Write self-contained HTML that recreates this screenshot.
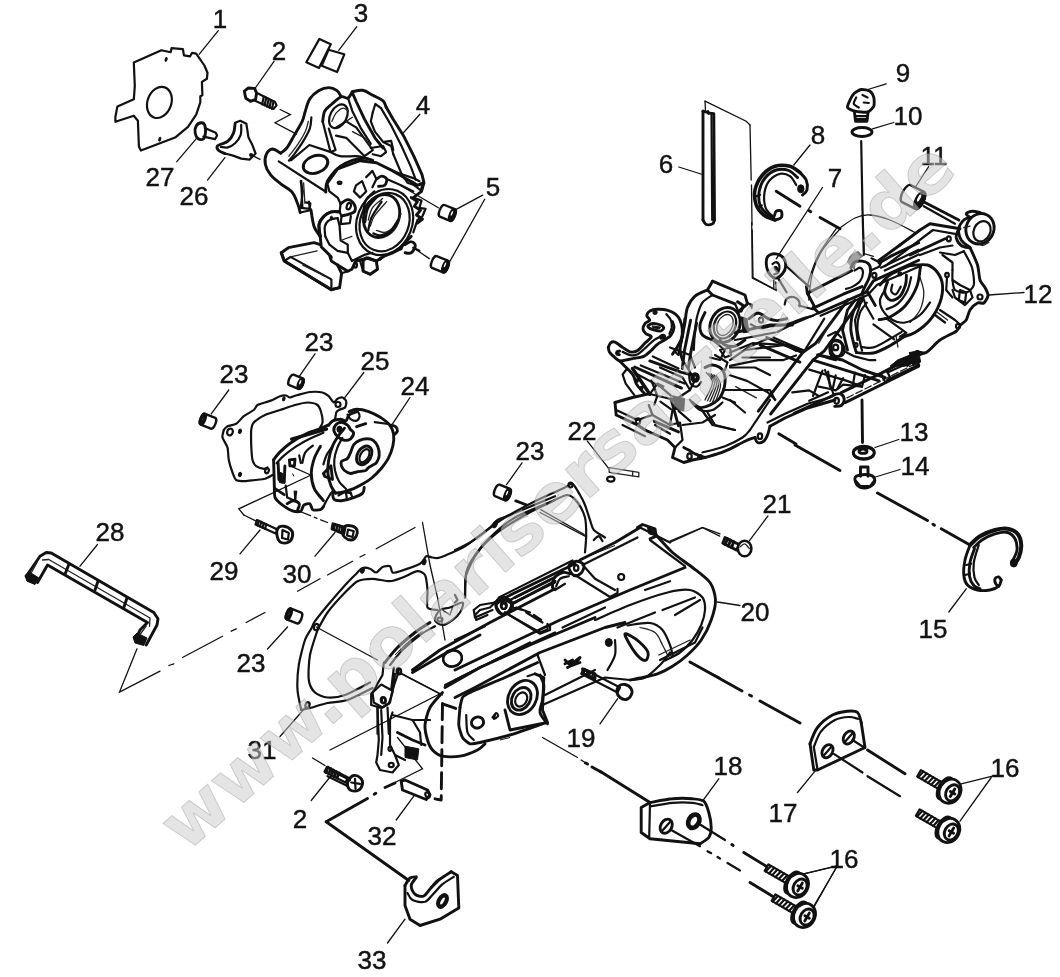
<!DOCTYPE html>
<html><head><meta charset="utf-8"><title>Crankcase</title>
<style>
html,body{margin:0;padding:0;background:#fff;}
svg{display:block;filter:grayscale(1);}
.l{font-family:"Liberation Sans",Arial,sans-serif;font-size:26px;fill:#111;stroke:#111;stroke-width:.45;text-anchor:middle;}
.wm{font-family:"DejaVu Sans","Liberation Sans",sans-serif;font-weight:bold;font-size:69px;fill:rgba(204,204,204,0.52);stroke:rgba(120,120,120,0.3);stroke-width:1;}
.p{fill:none;stroke:#111;stroke-width:2.2;stroke-linejoin:round;stroke-linecap:round;}
.pw{fill:#fff;stroke:#111;stroke-width:2.2;stroke-linejoin:round;stroke-linecap:round;}
.h{fill:none;stroke:#111;stroke-width:2.9;stroke-linejoin:round;stroke-linecap:round;}
.n{fill:none;stroke:#222;stroke-width:1.3;stroke-linejoin:round;stroke-linecap:round;}
.t{fill:none;stroke:#111;stroke-width:1.3;stroke-linecap:round;}
.d{fill:none;stroke:#111;stroke-width:1.5;stroke-dasharray:22 5 4 5;}
.k{fill:#111;stroke:#111;stroke-width:1;stroke-linejoin:round;}
</style></head><body>
<svg width="1060" height="977" viewBox="0 0 1060 977">
<rect width="1060" height="977" fill="#fff"/>
<g id="parts">
<!-- plate 1 -->
<path class="p"  d="M133.8 62.4 L161.4 50.2 L170.6 52.2 L171.6 48.1 L182.9 49.1 L183.9 55.3 L190.1 56.3 L192.1 52.8 L196.2 53.6 L204.4 65.5 L207.5 72.7 L206.9 78.8 L201.9 81.9 L202.4 95.2 L200.3 96.2 L200.3 102.4 L196.2 114.6 L188 126.9 L175.7 137.2 L140.9 150.5 L138.9 146.4 L137.9 120.8 L133.8 115.7 L115.4 121.8 L115.4 116.7 L117.4 106.4 L133.8 99.3 L134.8 86 Z"/>
<ellipse class="p"  cx="159.4" cy="102.4" rx="11.9" ry="16" transform="rotate(20 159.4 102.4)"/>
<ellipse class="k"  cx="166.1" cy="59.4" rx="1" ry="2" transform="rotate(15 166.1 59.4)"/>
<ellipse class="k"  cx="159.8" cy="139.2" rx="1" ry="2" transform="rotate(15 159.8 139.2)"/>
<path class="t"  d="M218.3 30.7 L199.3 54.2"/>
<!-- bolt 2 -->
<path class="h"  d="M244.3 91.1 L248.4 88 L254.6 88.4 L256.6 93.1 L255.6 99.3 L250.5 101.3 L245.8 98.3 Z"/>
<path class="p"  d="M256 92.5 L275 101.9 L276.5 105.4 L273.6 108.9 L253.9 100.3"/>
<path class="p"  d="M263.8 96.6 L262.1 104.4"/>
<path class="p"  d="M266.2 97.7 L264.6 105.5"/>
<path class="p"  d="M268.7 98.9 L267 106.7"/>
<path class="p"  d="M271.1 100 L269.5 107.8"/>
<path class="p"  d="M273.6 101.1 L272 108.9"/>
<path class="t"  d="M274 61.4 L254.6 89"/>
<path class="t"  d="M280.1 109.5 L290.4 114.6 L275 122.8 L296.5 134.1"/>
<!-- screw 27 -->
<path class="h"  d="M196.2 125.9 C197.2 124.2 199.9 122.9 201.3 122.8 C202.8 122.7 204.1 123.6 204.8 125.3 C205.5 127 205.7 130.8 205.4 133.1 C205.2 135.3 204.6 137.8 203.4 138.8 C202.2 139.7 199.6 139.7 198.3 138.8 C196.9 137.8 195.5 135.2 195.2 133.1 C194.8 130.9 195.2 127.6 196.2 125.9 Z"/>
<path class="p"  d="M204.8 127.9 L215.7 132.7 L217.1 135.5 L215 139.2 L203.4 136.7"/>
<path class="t"  d="M197.2 137.6 L176.8 161.7"/>
<!-- fork 26 -->
<path class="h"  d="M235.1 123.8 C234.8 125.4 234.7 130.2 233.5 133.1 C232.3 136 230.1 139.4 227.9 141.2 C225.8 143.1 222.6 143.5 220.8 144.3 C219 145.2 217.4 145.3 217.1 146.4 C216.8 147.4 217.4 149.3 218.7 150.5 C220 151.7 223.8 153 224.9 153.5"/>
<path class="p"  d="M224.9 153.5 L233.1 155.6 L241.2 158.6 L249.4 159.7 L255.6 153.5 L252.5 145.3 L248.4 137.2 L247 127.9 L246.4 123.8 L240.2 120.8 L235.1 122.8"/>
<path class="p"  d="M241.2 124.9 C241.1 126.6 241.7 132 240.6 135.1 C239.6 138.2 237.2 141.2 235.1 143.3 C233 145.3 230.3 146.8 227.9 147.4 C225.6 148 222 147 220.8 147"/>
<ellipse class="p"  cx="251.1" cy="155" rx="1" ry="1"/>
<path class="t"  d="M254.6 156.6 L260.1 159.3"/>
<path class="t"  d="M224.9 157.6 L207.5 180.1"/>
<!-- case 4 -->
<path class="h"  d="M280.7 153.1 C281.7 152.3 284.6 150.9 286.8 148 C289.1 145.1 291.5 140.2 294 135.7 C296.6 131.3 300.3 125.5 302.2 121.4 C304.1 117.3 304 114.9 305.3 111.2 C306.5 107.4 307.6 102.3 309.8 98.9 C312 95.5 315.4 92.6 318.6 90.7 C321.8 88.8 325.7 87.6 328.8 87.6 C331.9 87.6 335 89.2 337 90.7 C339 92.2 340.4 95.5 341.1 96.4"/>
<path class="h"  d="M280.7 153.1 C279.3 152.5 274.9 148.9 272.5 149 C270.1 149.2 267.6 151.6 266.4 154.2 C265.2 156.7 264.7 161 265.4 164.4 C266 167.8 267.9 171.4 270.5 174.6 C273 177.9 277.1 180.9 280.7 183.8 C284.3 186.7 289.2 188.8 292 192 C294.8 195.3 296.1 199.9 297.5 203.3 C298.9 206.7 299.7 211 300.2 212.5"/>
<path class="p"  d="M300.2 212.5 L309.4 210.5 L310.4 203.3 L305.7 202.3"/>
<path class="p"  d="M278.7 161.3 L326.2 192"/>
<path class="p"  d="M301.2 180.8 L302.4 207.4"/>
<path class="n"  d="M303.6 182.8 L304.9 203.3"/>
<ellipse class="h"  cx="315.5" cy="164.4" rx="12.7" ry="8.6" transform="rotate(-20 315.5 164.4)"/>
<path class="p"  d="M311.4 117.3 C311.1 119.2 311.2 124.5 309.8 128.6 C308.3 132.7 305.4 137.6 302.8 141.9 C300.2 146.2 296.3 151.4 294 154.6 C291.7 157.7 289.7 159.7 288.9 160.7"/>
<path class="n"  d="M308.3 121.4 C307.8 123.1 307 127.9 305.3 131.6 C303.6 135.4 300.8 139.8 298.1 143.9 C295.4 148 290.4 154.2 288.9 156.2"/>
<path class="p"  d="M290.9 160.3 L309.4 145 L330.9 152.1"/>
<path class="h"  d="M322.7 121.4 C323 119.7 323.2 114.1 324.7 111.2 C326.3 108.3 329.2 106.4 331.9 104 C334.6 101.6 338.4 97.8 341.1 96.8 C343.8 95.9 346 98.9 347.9 98.1 C349.7 97.2 351.6 92.8 352.4 91.7"/>
<ellipse class="p"  cx="338.4" cy="116.3" rx="8.2" ry="12.7" transform="rotate(28 338.4 116.3)"/>
<path class="n"  d="M331.9 121.4 C332.6 120 334.1 115.4 336 113.2 C337.9 111 341.1 108.4 343.1 108.1 C345.2 107.8 347.4 110.7 348.3 111.2"/>
<path class="p"  d="M322.7 121.4 L330.2 151.1"/>
<path class="p"  d="M328.8 128.6 L335.6 150.1 L330.9 152.1"/>
<path class="h"  d="M352.4 91.7 C354.1 91.5 359.2 89.7 362.6 90.3 C366 90.9 369.4 93.4 372.8 95.2 C376.2 97 380.8 99 383.1 100.9 C385.3 102.9 385.6 106.1 386.1 107.1"/>
<path class="h"  d="M386.1 107.1 L393.3 119.4 L403.5 135.7 L413.8 156.2 L422 174.6 L424 182.8 L421.5 191"/>
<path class="p"  d="M381 108.1 L391.2 125.5 L401.5 146 L410.7 166.4 L415.8 179.8"/>
<path class="h"  d="M352.4 92.8 L356.4 102 L364.6 119.4 L374.9 137.8 L383.1 148"/>
<path class="p"  d="M348.3 98.9 L352.4 111.2 L360.5 127.6 L370.8 143.9"/>
<path class="p"  d="M372.8 112.2 L375.3 104 L381 108.1"/>
<path class="p"  d="M372.8 112.2 L370.8 121.4 L374.9 131.6 L383.1 141.9 L391.2 146 L393.3 154.2"/>
<path class="p"  d="M336 127.6 L346.2 121.4 L356.4 127.6 L372.8 150.1 L364.6 156.2 L346.2 137.8 L336 135.7"/>
<path class="n"  d="M352.4 131.6 L364.6 137.8 L372.8 150.1"/>
<path class="n"  d="M346.2 121.4 L352.4 117.3"/>
<path class="p"  d="M370.8 148 L383.1 146 L386.1 152.1 L381 156.2 L372.8 154.2"/>
<path class="p"  d="M384.1 141.9 L391.2 140.9 L393.3 150.1"/>
<path class="p"  d="M393.3 154.2 L401.5 173.6 L407.6 182.8 L413.8 184.9 L421.5 191 L423 182.8"/>
<path class="n"  d="M403.5 178.7 L411.7 180.8 L417.9 184.9"/>
<path class="p"  d="M330.9 152.1 C332.4 152.8 335.8 155.5 340.1 156.2 C344.3 156.9 352 155.9 356.4 156.2 C360.9 156.6 365 157.9 366.7 158.3"/>
<path class="h"  d="M325.7 192 C325.9 190.5 325.7 185.7 326.8 182.8 C327.8 179.9 329.7 177.4 331.9 174.6 C334.1 171.9 336.7 168.8 340.1 166.4 C343.5 164.1 348.3 161.7 352.4 160.3 C356.4 158.9 361.2 158.3 364.6 158.3 C368 158.3 371.5 160 372.8 160.3"/>
<ellipse class="p"  cx="384.6" cy="222.1" rx="27.6" ry="33.8" transform="rotate(22 384.6 222.1)"/>
<ellipse class="h"  cx="381.6" cy="216" rx="17.4" ry="22.1" transform="rotate(22 381.6 216)"/>
<path class="n"  d="M366.2 211.9 C366.9 210.2 368.3 204.4 370.3 201.6 C372.4 198.9 377.1 196.5 378.5 195.5"/>
<path class="n"  d="M368.3 220.1 C368.9 218 370 211.4 372.4 207.8 C374.7 204.2 380.9 200.1 382.6 198.6"/>
<path class="n"  d="M370.3 226.2 C371 224.5 371.7 220.1 374.4 216 C377.1 211.9 384.6 204 386.7 201.6"/>
<path class="n"  d="M376.4 230.3 C377.8 230.6 381.6 233 384.6 232.4 C387.7 231.7 392.1 229.3 394.9 226.2 C397.6 223.1 400 216 401 213.9"/>
<path class="h"  d="M327.3 183.2 L337.6 168.9 L360.1 160.7 L376.4 162.8 L392.8 170.9 L417.4 185.3 L422.5 183.2 L421.5 191.4 L413.3 197.6"/>
<path class="p"  d="M327.3 183.2 L329.4 191.4 L337.6 197.6 L340.6 203.7 L339.6 211.9 L341.6 216"/>
<ellipse class="p"  cx="339.6" cy="182.8" rx="1.8" ry="1.2"/>
<path class="p"  d="M356 185.3 L362.1 181.2 L366.2 191.4 L360.1 197.6 L353.9 191.4 Z"/>
<path class="p"  d="M366.2 177.1 L372.4 170.9 L376.4 179.1 L372.4 187.3"/>
<path class="h"  d="M376.4 179.1 C377.3 178.6 379.9 176.1 381.6 176.1 C383.3 176.1 386.2 177.6 386.7 179.1 C387.2 180.7 386 184.1 384.6 185.3 C383.3 186.5 379.5 186.1 378.5 186.3"/>
<path class="p"  d="M386.7 179.1 L401 185.3 L413.3 191.4"/>
<path class="p"  d="M392.8 170.9 L401 174 L413.3 178.1 L419.4 181.2"/>
<path class="h"  d="M340.6 203.7 C341.8 203 345.6 199.6 347.8 199.6 C350 199.6 352.7 201.8 353.9 203.7 C355.1 205.6 355.6 209.2 355 210.9 C354.3 212.6 352.1 213.1 349.8 213.9 C347.6 214.8 343 215.6 341.6 216"/>
<ellipse class="p"  cx="348.8" cy="206.2" rx="2" ry="3.3" transform="rotate(20 348.8 206.2)"/>
<path class="p"  d="M341.6 216 L340.6 224.2 L349.8 223.1 L350.9 216"/>
<path class="h"  d="M320.2 236.4 C320 234.4 318.4 227.6 319.1 224.2 C319.8 220.8 322.2 218 324.2 216 C326.3 213.9 328.9 212.6 331.4 211.9 C334 211.2 338.2 211.9 339.6 211.9"/>
<path class="p"  d="M325.3 236.4 C325.2 234.7 324.2 228.9 324.9 226.2 C325.5 223.5 327.3 221.4 329.4 220.1 C331.5 218.7 336.2 218.4 337.6 218"/>
<ellipse class="k"  cx="331.4" cy="218" rx="1.2" ry="1.8"/>
<path class="h"  d="M320.2 236.4 L321.2 246.7 L329.4 254.9 L331.4 261 L337.6 265.1"/>
<path class="p"  d="M325.3 236.4 L329.4 244.6 L337.6 250.8 L347.8 252.8"/>
<ellipse class="k"  cx="331" cy="257.3" rx="1.2" ry="2"/>
<path class="p"  d="M337.6 218 L339.6 226.2 L340.6 240.5 L347.8 244.6 L347.8 252.8"/>
<path class="n"  d="M340.6 240.5 L351.9 236.4"/>
<path class="p"  d="M300.7 181.2 L302.8 191.4 L300.7 207.8 L309.9 208.8 L308.9 201.6"/>
<path class="h"  d="M310.9 209.8 C311.5 212.6 312.5 221.8 314 226.2 C315.5 230.6 319.1 234.7 320.2 236.4"/>
<path class="h"  d="M281.3 252.8 L288.4 247.7 L314 242.6 L320.2 244.6"/>
<path class="h"  d="M281.3 252.8 L284.3 261 L331.4 289.7 L339.6 287.6 L341.6 273.3 L337.6 265.1"/>
<path class="p"  d="M284.3 261 L290.5 256.9 L331.4 279.4 L331.4 289.7"/>
<path class="n"  d="M290.5 256.9 L317.1 250.8"/>
<path class="n"  d="M302.8 265.1 L325.3 276.4"/>
<path class="h"  d="M337.6 265.1 L347.8 271.2 L351.9 269.2 L356 261 L368.3 257.9 L376.4 261 L384.6 255.9 L392.8 252.8 L401 248.7"/>
<path class="p"  d="M341.6 273.3 L347.8 271.2"/>
<path class="p"  d="M347.8 252.8 L351.9 261 L364.2 254.9 L372.4 252.8"/>
<path class="p"  d="M360.1 261 L366.2 257.9 L376.4 261 L377.5 269.2 L370.3 274.3 L363.1 271.2 Z"/>
<ellipse class="p"  cx="355.4" cy="265.1" rx="1.6" ry="2.5"/>
<ellipse class="k"  cx="380.5" cy="258.6" rx="1.2" ry="1.6"/>
<path class="p"  d="M413.3 197.6 L421.5 200.6 L419.4 207.8 L425.6 208.8 L422.5 216 L417.4 220.1 L413.3 232.4"/>
<path class="h"  d="M411.2 236.4 L403.1 244.6 L401 248.7"/>
<path class="h"  d="M405.1 244.6 C406.1 244.1 409.5 241.4 411.2 241.6 C413 241.7 415.3 243.8 415.3 245.7 C415.3 247.5 413 251.6 411.2 252.8 C409.5 254 406.1 252.8 405.1 252.8"/>
<path class="p"  d="M413.3 247.7 L419.4 250.8"/>
<!-- item 3 -->
<path class="p"  d="M319.4 38.9 L330.8 44.2 L319 67.9 L306.3 62.3 Z"/>
<path class="pw"  d="M328.5 49.8 L344.3 54.3 L337.1 72 L321.7 65.7 Z"/>
<path class="t"  d="M356.8 26.7 L338.7 50.3"/>
<path class="t"  d="M419.9 114.2 L402.5 133.7"/>
<!-- dowels 5 -->
<g transform="translate(447.3 212.9) rotate(22)"><path class="pw" style="stroke-width:2.4" d="M-5.5 -6.3 L5.5 -6.3 A2.6 6.3 0 0 1 5.5 6.3 L-5.5 6.3 A2.6 6.3 0 0 1 -5.5 -6.3 Z"/><ellipse class="p" cx="5.5" cy="0" rx="2.6" ry="6.3"/><ellipse class="k" cx="5.5" cy="0" rx="2.6" ry="6.3"/><ellipse fill="#fff" cx="4.4" cy="-1.3" rx="0.8" ry="2.6"/></g>
<g transform="translate(439.9 264.3) rotate(22)"><path class="pw" style="stroke-width:2.4" d="M-6 -6.3 L6 -6.3 A2.6 6.3 0 0 1 6 6.3 L-6 6.3 A2.6 6.3 0 0 1 -6 -6.3 Z"/><ellipse class="p" cx="6" cy="0" rx="2.6" ry="6.3"/><ellipse class="k" cx="6" cy="0" rx="2.6" ry="6.3"/><ellipse fill="#fff" cx="4.9" cy="-1.3" rx="0.8" ry="2.6"/></g>
<path class="t"  d="M401 185.7 L438.3 207.8"/>
<path class="t"  d="M413.3 247.7 L429.3 258.6"/>
<path class="t"  d="M482.7 195.1 L455.7 209.6"/>
<path class="t"  d="M484.7 199.3 L447.4 265.7"/>
<!-- gasket 25 -->
<path class="p"  d="M223.8 430 C224.2 429.5 225.8 427.1 227.5 426.2 C229.2 425.4 234.1 425.1 236.2 423.8 C238.4 422.4 241.4 418.1 243.8 416.2 C246.1 414.4 251.9 411.5 253.8 410 C255.6 408.5 256 406 257.5 405 C259 404 263 403.2 265 402.5 C267 401.8 270.5 400.8 272.5 400 C274.5 399.2 278.2 396.9 280 396.2 C281.8 395.6 284.9 395.3 286.2 395.5 C287.6 395.7 288.5 397.6 290 397.5 C291.5 397.4 294.8 395.7 297.5 395 C300.2 394.3 306.7 392.3 310 392 C313.3 391.7 320 391.9 322.5 392.5 C325 393.1 327.2 394.9 328.8 396.2 C330.2 397.6 332.6 402.2 333.8 402.5 C334.9 402.8 336.3 399.4 337.5 398.8 C338.7 398.1 341.3 397.2 342.5 397.5 C343.7 397.8 345.9 399.9 346.2 401.2 C346.6 402.6 346 406.3 345 407.5 C344 408.7 339.9 409.3 338.8 410 C337.6 410.7 336.8 411.3 336.2 412.5 C335.8 413.7 335.7 417.4 335 418.8 C334.3 420.1 331.8 422 331.2 422.5"/>
<path class="p"  d="M223.8 430 C223.6 431 222 435.2 222.5 437.5 C223 439.8 226.7 444.5 227.5 447.5 C228.3 450.5 228.1 456.7 228.8 460 C229.4 463.3 231.5 469.8 232.5 472.5 C233.5 475.2 234.6 478.8 236.2 480 C237.9 481.2 242.5 481.2 245 481.2 C247.5 481.2 252.3 480.3 255 480 C257.7 479.7 262.7 479.4 265 478.8 C267.3 478.1 271.5 475.5 272.5 475"/>
<path class="p"  d="M267.5 467.5 C267 467.7 265.2 468.9 263.8 468.8 C262.2 468.6 257.8 467.4 256.2 466.2 C254.8 465.1 253.2 462.8 252.5 460 C251.8 457.2 251.4 449 251.2 445 C251.1 441 250.9 433 251.2 430 C251.6 427 251.9 424.5 253.8 422.5 C255.6 420.5 261.5 416.7 265 415 C268.5 413.3 276 411.3 280 410 C284 408.7 291.3 406 295 405 C298.7 404 304.5 402.5 307.5 402.5 C310.5 402.5 315.7 403.7 317.5 405 C319.3 406.3 320.6 410.2 321.2 412.5 C321.9 414.8 322.7 420.5 322.5 422.5 C322.3 424.5 320.3 426.8 320 427.5"/>
<ellipse class="p"  cx="230" cy="432" rx="2.8" ry="3.5" transform="rotate(20 230 432)"/>
<ellipse class="k"  cx="240" cy="431.2" rx="1.5" ry="2.2" transform="rotate(20 240 431.2)"/>
<ellipse class="k"  cx="240" cy="474.5" rx="1.5" ry="2.2" transform="rotate(20 240 474.5)"/>
<ellipse class="p"  cx="267" cy="470.8" rx="1.8" ry="2.5" transform="rotate(20 267 470.8)"/>
<ellipse class="k"  cx="283.8" cy="398.8" rx="1.2" ry="2" transform="rotate(20 283.8 398.8)"/>
<ellipse class="p"  cx="338" cy="404.5" rx="2.5" ry="2.5"/>
<!-- pump 24 -->
<path class="h"  d="M349.1 411.6 C350.3 411.2 353.3 409.3 356.6 409.3 C359.9 409.3 364.7 410.2 368.7 411.6 C372.7 413 377.2 415.4 380.8 417.6 C384.3 419.9 387.7 422.4 389.8 425.2 C391.9 428 393.1 430.7 393.6 434.2 C394.1 437.8 393.7 442.3 392.8 446.3 C391.9 450.3 390.3 454.6 388.3 458.4 C386.3 462.2 383.5 465.7 380.8 469 C378 472.2 374.7 475.5 371.7 478 C368.7 480.5 365.7 482.3 362.6 484.1 C359.6 485.8 356.6 487.3 353.6 488.6 C350.6 489.8 347.5 490.8 344.5 491.6 C341.5 492.4 337 492.9 335.5 493.1"/>
<path class="h"  d="M335.5 493.1 C334.7 491.9 332.2 488.8 330.9 485.6 C329.7 482.3 328.3 477.8 327.9 473.5 C327.5 469.2 327.9 464.4 328.7 459.9 C329.4 455.4 330.8 450.3 332.5 446.3 C334.1 442.3 336.5 438.8 338.5 435.8 C340.5 432.7 343.5 429.5 344.5 428.2"/>
<path class="p"  d="M342.3 438 C341.4 439.7 338.6 444.2 337.3 447.8 C335.9 451.5 334.6 456.1 334.3 459.9 C333.9 463.7 334.3 466.9 335 470.5 C335.8 474 337 478 338.8 481 C340.6 484.1 344.8 487.6 346 488.9"/>
<path class="h"  d="M341.5 461.4 C342.2 460.5 346.5 459.5 347.5 458.4 C348.6 457.3 349.9 453.9 350.6 452.4 C351.3 450.8 352.5 446.2 353.6 444.8 C354.6 443.4 358 441 359.6 440.3 C361.2 439.6 365.6 438.8 367.2 438.8 C368.8 438.8 372 439.4 373.2 440.3 C374.4 441.2 377 444.6 377.7 446.3 C378.4 448.1 379.4 453.4 379.2 455.4 C379.1 457.3 377.5 461.5 376.2 462.9 C375 464.3 369.9 466.6 368.7 467.5 C367.4 468.3 367.1 469.9 365.7 470.5 C364.3 471 358.4 471.6 356.6 472 C354.8 472.3 352 473.7 350.6 473.5 C349.2 473.3 345.6 471.4 344.5 470.5 C343.5 469.6 341.9 467 341.5 465.9 C341.2 464.9 340.8 462.3 341.5 461.4 Z"/>
<ellipse class="h"  cx="364.2" cy="455.4" rx="6.8" ry="10" transform="rotate(30 364.2 455.4)"/>
<ellipse class="p"  cx="364.5" cy="455.7" rx="4.1" ry="7.2" transform="rotate(30 364.5 455.7)"/>
<path class="h"  d="M334 431.2 C333.5 429.2 334.2 426.7 335.5 425.2 C336.7 423.7 339.5 422.2 341.5 422.2 C343.5 422.2 346 423.9 347.5 425.2 C349.1 426.4 349.6 428.5 350.6 429.7 C351.6 431 353.6 431.2 353.6 432.7 C353.6 434.2 352.1 437.5 350.6 438.8 C349.1 440 346.5 440.5 344.5 440.3 C342.5 440 340.3 438.8 338.5 437.3 C336.7 435.8 334.5 433.2 334 431.2 Z"/>
<ellipse class="k"  cx="339.5" cy="429.3" rx="2.6" ry="3.2"/>
<path class="h"  d="M328.7 425.2 C329.3 424.5 330.6 422 332.5 421 C334.3 420 337.7 419.2 340 419.2 C342.3 419.1 344.5 421.4 346 420.7 C347.5 420 347.3 416.4 349.1 414.9 C350.8 413.4 355.3 412.2 356.6 411.6"/>
<path class="p"  d="M347.5 414.6 C348.1 415.4 349.1 418.1 350.6 419.2 C352.1 420.2 355.1 421.2 356.6 420.7 C358.1 420.2 359.4 417.6 359.6 416.1 C359.9 414.7 358.4 412.6 358.1 411.9"/>
<path class="h"  d="M391.3 425.2 C392.1 425.4 394.8 425.7 395.8 426.7 C396.9 427.7 397.6 429.9 397.4 431.2 C397.1 432.5 394.8 434 394.3 434.5"/>
<path class="h"  d="M356.6 426.7 L365.7 423.7"/>
<path class="p"  d="M374.7 422.2 L388.3 424"/>
<path class="h"  d="M332.5 491.6 C332.7 492.9 332.5 497.6 334 499.2 C335.5 500.7 338.2 500.9 341.5 500.7 C344.8 500.4 350.1 498.9 353.6 497.6 C357.1 496.4 360.9 494.8 362.6 493.1 C364.4 491.4 363.9 488.3 364.2 487.4"/>
<path class="p"  d="M338.5 495.4 C339.5 494.9 342.5 492.7 344.5 492.4 C346.5 492 349.6 493 350.6 493.1"/>
<path class="p"  d="M346 493.1 L346.8 498.4"/>
<path class="p"  d="M350.6 492.4 L352.1 496.9"/>
<path class="h"  d="M323.4 473.5 L330.9 465.9 L332.5 479.5 L324.9 476.5 Z"/>
<path class="h"  d="M273.6 459.9 C274.6 458.6 276.9 455.1 279.6 452.4 C282.4 449.6 285.9 446.3 290.2 443.3 C294.5 440.3 300.8 436.5 305.3 434.2 C309.8 432 313.6 431.2 317.4 429.7 C321.1 428.2 326.2 425.9 327.9 425.2"/>
<path class="p"  d="M276.6 463.2 C277.9 461.9 280.9 458.2 284.2 455.4 C287.4 452.6 291.9 449.1 296.2 446.3 C300.5 443.6 305.3 441 309.8 438.8 C314.3 436.5 321.1 433.7 323.4 432.7"/>
<path class="h" style="stroke-width:3.5" d="M291.7 439.1 L326.4 429.1"/>
<path class="h"  d="M273.6 459.9 C273.7 462.9 274.2 481.2 274.3 485.6 C274.5 490 274.1 495.4 275.1 497.6 C276.1 499.9 280.5 503.6 282.6 505.2 C284.8 506.8 291.1 510.5 293.2 511.2 C295.3 511.9 299.5 511.9 300.8 511.2 C302 510.5 302.7 506.1 303.8 505.2 C304.8 504.3 308.8 503.2 309.8 503.7 C310.9 504.2 311.6 509 312.8 509.7 C314.1 510.4 319.1 510.1 320.4 509.7 C321.6 509.4 323 507.1 323.4 506.7"/>
<path class="h"  d="M320.4 446.3 C319.4 448.3 315.8 453.9 314.3 458.4 C312.8 462.9 311.3 468.5 311.3 473.5 C311.3 478.5 312.3 484.1 314.3 488.6 C316.4 493.1 321.9 498.6 323.4 500.7"/>
<path class="p"  d="M312.8 445.6 C311.6 446.7 307 449.5 305.3 452.4 C303.5 455.3 302.8 461.2 302.3 462.9"/>
<path class="p"  d="M332.5 446.3 C331.4 447.8 327.9 452.4 326.4 455.4 C324.9 458.4 323.9 462.9 323.4 464.4"/>
<path class="p"  d="M323.4 506.7 C323.9 505.7 325.2 502.9 326.4 500.7 C327.7 498.4 330.2 494.4 330.9 493.1"/>
<path class="h"  d="M278.1 462.9 L278.9 479.5 L284.2 482.5 L284.9 465.9"/>
<path class="k"  d="M279.3 472 L282.9 473.5 L282.6 483.3 L279.3 482.5 Z"/>
<path class="h"  d="M289.4 459.9 L295 459.2 L294.4 465.9 L289.9 465.9 Z"/>
<path class="t"  d="M290.2 465.9 L310.6 475"/>
<path class="p"  d="M285.7 485.6 L287.2 497.6 L294.7 500.7 L296.2 491.6"/>
<path class="h"  d="M275.1 488.6 L284.2 494.6"/>
<path class="h"  d="M287.2 503.7 C288.2 503.2 291.2 500.7 293.2 500.7 C295.2 500.7 298.5 502.2 299.2 503.7 C300 505.2 298 508.7 297.7 509.7"/>
<path class="p"  d="M294.7 491.6 L295.5 500.7"/>
<path class="p"  d="M299.2 455.4 L300.8 462.9"/>
<path class="k"  d="M292.5 473.5 L294 476.5"/>
<path class="t"  d="M315 353.8 L297.5 378.8"/>
<path class="t"  d="M228.8 390 L211.2 413.8"/>
<path class="t"  d="M363.8 372.5 L343.8 398.8"/>
<path class="t"  d="M410 397.5 L392.5 423.8"/>
<path class="t"  d="M260 530 L240 553.8"/>
<path class="t"  d="M335 532.5 L315 556.2"/>
<path class="t"  d="M311.2 475 L238.8 508.8 L243.8 515"/>
<path class="t"  d="M243.8 515 L256.2 521.2"/>
<path class="t" stroke-dasharray="14 4 3 4" d="M297.5 510.5 L327.5 522.5"/>
<!-- dowels 23 a b -->
<g transform="translate(296 381.8) rotate(22)"><path class="pw" style="stroke-width:2.4" d="M-5 -5.6 L5 -5.6 A2.4 5.6 0 0 1 5 5.6 L-5 5.6 A2.4 5.6 0 0 1 -5 -5.6 Z"/><ellipse class="p" cx="5" cy="0" rx="2.4" ry="5.6"/><ellipse class="k" cx="5" cy="0" rx="2.4" ry="5.6"/><ellipse fill="#fff" cx="4.1" cy="-1.1" rx="0.8" ry="2.4"/></g>
<g transform="translate(208 421.2) rotate(202)"><path class="pw" style="stroke-width:2.4" d="M-5.5 -5.8 L5.5 -5.8 A2.4 5.8 0 0 1 5.5 5.8 L-5.5 5.8 A2.4 5.8 0 0 1 -5.5 -5.8 Z"/><ellipse class="p" cx="5.5" cy="0" rx="2.4" ry="5.8"/><ellipse class="p" cx="5.5" cy="0" rx="1.2" ry="3.5"/></g>
<!-- bolt 29 -->
<path class="p"  d="M257 520 L277.5 529.5 L276.2 533.8 L255.5 524.5 Z"/>
<path class="p"  d="M258.8 520.8 L257.5 525.5"/>
<path class="p"  d="M261.2 521.9 L260 526.6"/>
<path class="p"  d="M263.8 523 L262.5 527.8"/>
<path class="p"  d="M266.2 524.1 L265 528.9"/>
<path class="h"  d="M277.5 528.8 C278.5 526.9 281.5 526 283.8 526.2 C286 526.5 289.8 528.3 291.2 530 C292.7 531.7 292.9 534.2 292.5 536.2 C292.1 538.2 290.6 541 288.8 542 C286.9 543 283.1 543.2 281.2 542.5 C279.4 541.8 278.1 539.8 277.5 537.5 C276.9 535.2 276.5 530.6 277.5 528.8 Z"/>
<path class="p"  d="M282.5 530 L288.8 533 L288 539.5 L282 538 Z"/>
<!-- bolt 30 -->
<path class="h"  d="M333 523.8 L345 527.5 L343.8 533.8 L332 528.8 Z"/>
<path class="p"  d="M335 524 L334 529.5"/>
<path class="p"  d="M337.5 524.9 L336.5 530.4"/>
<path class="p"  d="M340 525.8 L339 531.2"/>
<path class="p"  d="M342.5 526.6 L341.5 532.1"/>
<path class="h"  d="M345 526.2 C346.7 525.2 350.5 525.6 352.5 526.2 C354.5 526.9 356.4 528.3 357 530 C357.6 531.7 357.2 534.6 356.2 536.2 C355.3 537.9 353.1 539.8 351.2 540 C349.4 540.2 346.5 538.8 345 537.5 C343.5 536.2 342.5 534.4 342.5 532.5 C342.5 530.6 343.3 527.3 345 526.2 Z"/>
<path class="p"  d="M348 529.5 L353.8 531.2 L352.5 537 L347 535.5 Z"/>
<!-- case 4 extras -->
<path class="p"  d="M363.1 211.9 C363.7 209.8 364.3 203 366.2 199.6 C368.1 196.2 373 192.8 374.4 191.4"/>
<path class="p"  d="M365.2 222.1 C365.7 219.7 366 212.2 368.3 207.8 C370.5 203.4 376.8 197.6 378.5 195.5"/>
<path class="p"  d="M368.3 230.3 C368.8 228.3 369.1 222.8 371.3 218 C373.5 213.2 379.9 204.4 381.6 201.6"/>
<path class="p"  d="M373.4 233.4 C374.6 233.7 377.6 235.9 380.5 235.4 C383.4 234.9 387.9 232.9 390.8 230.3 C393.7 227.7 396.7 221.8 397.9 220.1"/>
<ellipse class="p"  cx="384.6" cy="222.1" rx="24.2" ry="29.9" transform="rotate(22 384.6 222.1)"/>
<path class="h"  d="M411.2 197.6 L417.4 201.6 L414.3 206.2 L420.5 210.2 L416.4 215 L422.5 219 L417.4 223.1"/>
<path class="h"  d="M363.1 261 L366.2 257.9 L376.4 261 L377.5 269.2 L370.3 274.3 L363.1 271.2 Z"/>
<path class="h"  d="M320.2 236.4 C320 234.4 318.4 227.6 319.1 224.2 C319.8 220.8 322.2 218 324.2 216 C326.3 213.9 328.9 212.6 331.4 211.9 C334 211.2 338.2 211.9 339.6 211.9"/>
<path class="h"  d="M281.3 252.8 L284.3 261 L331.4 289.7 L339.6 287.6"/>
<!-- crankcase 12 right (frame G) -->
<ellipse class="h"  cx="980" cy="228.8" rx="13.8" ry="15.5" transform="rotate(25 980 228.8)"/>
<ellipse class="p"  cx="982" cy="231.2" rx="8.2" ry="10.5" transform="rotate(25 982 231.2)"/>
<path class="h"  d="M970 217.5 C969 217.9 965.6 218.1 963.8 220 C961.9 221.9 959.2 225.4 958.8 228.8 C958.3 232.1 959.4 236.9 961.2 240 C963.1 243.1 968.5 246.2 970 247.5"/>
<path class="n"  d="M977.5 242.5 C978.3 243 980.6 245.5 982.5 245.5 C984.4 245.5 987.7 243 988.8 242.5"/>
<path class="n"  d="M963.8 227.5 L970 226.2"/>
<path class="h"  d="M970 247.5 C971 249.8 976.2 260.7 977.5 265 C978.8 269.3 979 277 980 280 C981 283 983.9 285.4 985 287.5 C986.1 289.6 988.2 293.4 988 295.5 C987.8 297.6 985.1 302 983.8 303 C982.4 304 979.3 302.1 977.5 303 C975.7 303.9 971.5 307.7 970 310 C968.5 312.3 967.5 318 966.2 320 C965 322 961.8 323.5 960.5 325 C959.2 326.5 959 329.2 956.2 331.2 C953.5 333.2 944 337.2 940 340 C936 342.8 929.3 351 926.2 352.5 C923.2 354 918.2 351.6 917 351.5"/>
<path class="p"  d="M963.8 251.2 C964.9 253.4 970.7 263 972 267.5 C973.3 272 974.5 281.7 973.8 285 C973 288.3 968.8 291.8 966.2 292.5 C963.8 293.2 956.8 291.7 955 290 C953.2 288.3 952.8 282.7 952.5 280 C952.2 277.3 952.5 271.3 952.5 270"/>
<ellipse class="p"  cx="980" cy="297" rx="2.5" ry="2.5"/>
<ellipse class="p"  cx="958" cy="326.2" rx="2" ry="2.2"/>
<ellipse class="p"  cx="948.8" cy="238.8" rx="2" ry="2.5"/>
<path class="h"  d="M917 351.5 L912.5 355 L918.8 365 L887.5 380"/>
<path class="p"  d="M915 360 L887.5 372.5"/>
<path class="k"  d="M910 355 L897.5 360 L890 366.2 L905 366.2 L916.2 361.2"/>
<path class="h"  d="M960 228.8 L930 223.8 L920 230 L900 245"/>
<path class="p"  d="M955 233.8 L933 230 L905 251.2"/>
<path class="h"  d="M945 238.8 L910 255"/>
<path class="p"  d="M952.5 245.5 L940 247.5 L920 255"/>
<path class="p"  d="M940 252.5 L955 255 L963.8 251.2"/>
<path class="p"  d="M942.5 255 L952.5 262.5 L952.5 270"/>
<path class="h"  d="M910 265.5 C912.9 265.4 922.9 263.8 927.5 265 C932.1 266.2 935 269.2 937.5 272.5 C940 275.8 942.1 280 942.5 285 C942.9 290 942.1 296.7 940 302.5 C937.9 308.3 934.2 315 930 320 C925.8 325 919.6 329.7 915 332.5 C910.4 335.3 904.6 336.2 902.5 337"/>
<path class="n"  d="M920 277.5 C920.6 280 923.8 287.1 923.8 292.5 C923.8 297.9 922.3 305 920 310 C917.7 315 911.7 320.4 910 322.5"/>
<path class="p"  d="M952.5 280 L960 285 L970 290 L972.5 297.5 L965 305 L955 297.5 L952.5 290"/>
<path class="p"  d="M960 290 L966.2 292.5 L965 302.5 L958.8 300 Z"/>
<path class="p"  d="M940 310 L955 320 L960.5 325"/>
<path class="p"  d="M935 315 L945 322.5"/>
<path class="n"  d="M937.5 312.5 L947.5 320"/>
<ellipse class="p"  cx="947" cy="275" rx="1.8" ry="2.2"/>
<path class="p"  d="M947 277.5 L946.2 290 L952.5 297.5"/>
<!-- crankcase 12 center (frame J) -->
<path class="t"  d="M751.7 222.5 L752.3 278.1 L776.2 290.4 L775.7 281.9"/>
<path class="h"  d="M766.8 258.3 C767.4 256.1 768.8 255.2 770.6 254.5 C772.3 253.8 775 253.5 777.2 254.2 C779.4 254.8 782.4 256.4 783.8 258.3 C785.2 260.3 785.8 263.3 785.7 265.8 C785.5 268.4 784.4 271.4 782.8 273.4 C781.3 275.4 778.3 277.8 776.2 278.1 C774.2 278.4 772.1 277 770.6 275.3 C769 273.6 767.4 270.6 766.8 267.7 C766.2 264.9 766.2 260.5 766.8 258.3 Z"/>
<path class="p"  d="M772.5 264 C773.1 263.6 775.1 261.8 776.2 262.1 C777.4 262.4 779.1 264.1 779.4 265.8 C779.7 267.6 779 271 778.1 272.5 C777.3 273.9 775 274 774.3 274.3"/>
<ellipse class="k"  cx="776.6" cy="269.2" rx="1.7" ry="3.2" transform="rotate(-35 776.6 269.2)"/>
<path class="p"  d="M785.7 265.8 L809.2 286.6"/>
<path class="p"  d="M778.1 278.1 L786.6 292.3"/>
<path class="p"  d="M784.7 304.5 C785 303.6 785.2 300.1 786.6 298.9 C788 297.6 791.2 296.7 793.2 297 C795.3 297.3 797.8 299.2 798.9 300.8 C800 302.3 799.7 305.5 799.8 306.4"/>
<path class="t"  d="M836.6 228.1 C833.6 232.5 823.2 246 818.7 254.5 C814.1 263 811.3 272.8 809.2 279.1 C807.2 285.3 806.9 290.1 806.4 292.3"/>
<path class="h"  d="M806.4 286.6 L807.4 293.2 L851.7 270.6"/>
<path class="h"  d="M807.4 293.2 L814.9 307.4 L843.2 294.2 L862.1 286.6"/>
<path class="p"  d="M798.9 305.5 L813 309.2"/>
<path d="M848 262 q2 -8 10 -10 l4 4 q-8 4 -8 12z" fill="#777" stroke="#777" stroke-width="2"/>
<path class="h"  d="M850.8 267.7 C851.4 266.8 852.6 263.2 854.5 262.1 C856.4 261 859.7 260.8 862.1 261.1 C864.4 261.4 867.3 262.4 868.7 264 C870.1 265.5 870.6 268.1 870.6 270.6 C870.6 273.1 869.6 276.4 868.7 279.1 C867.7 281.7 866 284.2 864.9 286.6 C863.8 289 862.5 292.1 862.1 293.2"/>
<path class="p"  d="M854.5 270.6 C855.5 270.1 858.8 267.4 860.2 267.7 C861.6 268.1 863 270.3 863 272.5 C863 274.7 861.9 278.6 860.2 280.9 C858.5 283.3 855 285.3 852.6 286.6 C850.3 287.9 847.1 288.5 846 288.9"/>
<path class="t"  d="M863 218.7 L864 253.6 L873.4 256.4"/>
<path class="p"  d="M870.6 270.6 L879.1 266.8 L880.9 263 L875.3 260.2 L871.5 258.3"/>
<path class="h"  d="M879.1 263 L890.4 256.4 L918.7 242.8"/>
<path class="p"  d="M880.9 267.7 L918.7 249.8"/>
<path class="p"  d="M884.7 270.6 L918.7 254.5"/>
<ellipse class="p"  cx="874.3" cy="275.3" rx="2.1" ry="2.5"/>
<path class="h"  d="M813 307.4 L818.7 313 L865.8 292.3 L873.4 280.9 L918.7 260.2"/>
<path class="p"  d="M820.6 315.8 L867.7 295.1 L877.2 284.7 L918.7 266.8"/>
<ellipse class="p"  cx="899.8" cy="273.8" rx="1.3" ry="1.5"/>
<path class="h"  d="M920.6 265.8 C919.9 269.3 919.3 280 916.8 286.6 C914.3 293.2 909.9 300.4 905.5 305.5 C901.1 310.5 894.8 314.4 890.4 316.8 C886 319.2 880.9 319.2 879.1 319.6"/>
<path class="p"  d="M911.1 277.2 C910.5 279.4 909.6 286 907.4 290.4 C905.2 294.8 901.4 300.4 897.9 303.6 C894.5 306.7 888.5 308.3 886.6 309.2"/>
<path class="h"  d="M887.5 281.9 C887.1 283.6 884.2 289.2 884.7 292.3 C885.2 295.3 887.9 299.5 890.4 300.2 C892.9 300.9 897.3 299 899.8 296.4 C902.3 293.8 904.4 288.2 905.5 284.7 C906.6 281.2 906.3 276.9 906.4 275.3"/>
<path class="p"  d="M892.3 284.7 C892.1 285.8 890.7 289.7 891.3 291.3 C891.9 292.9 894.5 294.9 896 294.2 C897.6 293.4 900 287.9 900.8 286.6"/>
<path class="h"  d="M847.9 299.8 L815.8 343.2 L802.6 352.6 L758.3 411.1"/>
<path class="h"  d="M860.2 297.9 L854.5 309.2 L824.3 350.8 L813 360.2 L770.6 414"/>
<path class="h"  d="M766.8 337.5 L802.6 352.6"/>
<path class="h"  d="M760.2 345.1 L799.8 362.1"/>
<path class="h"  d="M813 360.2 L862.1 375.3 L879.1 380.9"/>
<path class="p"  d="M809.2 369.6 L847 380.9 L862.1 386.6"/>
<path class="p"  d="M818.7 313 L792.3 324.3 L777.2 331.9"/>
<path class="p"  d="M824.3 318.7 L809.2 343.2 L804.5 350.8 L786.6 343.2 L773.4 337.5"/>
<path class="n"  d="M831.9 320.6 L818.7 343.2"/>
<path class="h"  d="M862.1 300.8 C860.7 302.5 855.5 306.6 853.6 311.1 C851.7 315.7 850.8 322.8 850.8 328.1 C850.8 333.5 852.6 339.1 853.6 343.2 C854.5 347.3 855.9 351.1 856.4 352.6"/>
<path class="p"  d="M866.8 302.6 C865.6 304.4 861.4 308.8 859.8 313 C858.2 317.3 857.3 323.1 857.4 328.1 C857.4 333.1 859.4 339.4 860.2 343.2 C861 347 861.8 349.5 862.1 350.8"/>
<path class="h"  d="M856.4 352.6 C859.2 352.7 867.7 354.2 873.4 353 C879.1 351.8 885 348.4 890.4 345.5 C895.7 342.6 903 337.3 905.5 335.7"/>
<path class="p"  d="M862.1 347 C864 347 869 348.6 873.4 347.4 C877.8 346.2 883.8 342.4 888.5 339.8 C893.2 337.2 899.5 333.2 901.7 331.9"/>
<path class="p"  d="M879.1 319.6 L886.6 318.7 L906.4 332.8 L899.8 336.6"/>
<path class="p"  d="M873.4 324.3 L894.2 339.4"/>
<path class="n"  d="M896 335.7 L897.9 347"/>
<ellipse class="p"  cx="856" cy="345.1" rx="1.5" ry="1.9"/>
<path class="p"  d="M862.1 294.2 L865.8 305.5 L873.4 318.7"/>
<path class="h"  d="M867.7 292.3 L875.3 305.5"/>
<ellipse class="p"  cx="835.7" cy="347.4" rx="2.5" ry="2.8"/>
<path class="p"  d="M831.9 343.2 C832.7 341.2 835.7 341 837.5 341.3 C839.4 341.6 842.1 343.2 843.2 345.1 C844.3 347 844.8 350.8 844.2 352.6 C843.5 354.5 841.3 356.3 839.4 356.4 C837.5 356.6 834.1 355.8 832.8 353.6 C831.6 351.4 831.1 345.3 831.9 343.2 Z"/>
<path class="p"  d="M843.2 350.8 L854.5 356.4 L869.6 360.2 L875.3 360.2"/>
<path class="p"  d="M828.1 335.7 L835.7 331.9 L841.3 337.5"/>
<path class="p"  d="M818.7 354.5 L828.1 358.3 L835.7 360.2"/>
<ellipse class="p"  cx="836.6" cy="400.8" rx="2.3" ry="3"/>
<path class="h"  d="M831.9 396 C832.5 395.7 834.1 394.5 835.7 394.2 C837.2 393.8 839.9 393.2 841.3 394.2 C842.7 395.1 844.2 397.9 844.2 399.8 C844.2 401.7 842.9 404.4 841.3 405.5 C839.7 406.6 835.8 406.3 834.7 406.4"/>
<path class="h"  d="M841.3 392.6 L880.9 373.4 L918.7 353.6"/>
<path class="h"  d="M845.1 402.6 L918.7 366.2"/>
<path class="n" stroke-dasharray="7 3" d="M847 397.9 L918.7 362.1"/>
<path class="p"  d="M880.9 373.4 L884.7 380.9"/>
<path class="p"  d="M886.6 370.6 L890.4 378.1"/>
<path class="h"  d="M831.9 396 L794.2 413.4"/>
<path class="p"  d="M828.1 392.3 L809.2 400.8"/>
<path class="p"  d="M892.3 365.8 L899.8 362.1 L907.4 365.8 L914.9 360.2"/>
<path class="k"  d="M909.2 352.6 L918.7 350.8 L920.6 362.1 L913 365.8 Z"/>
<path class="p"  d="M822.5 370.6 L813 396"/>
<path class="p"  d="M828.1 371.5 L830 386.6"/>
<path class="p"  d="M835.7 375.3 L832.8 388.5"/>
<path class="p"  d="M843.2 378.1 L837.5 388.5"/>
<path class="p"  d="M818.7 386.6 L828.1 388.5 L835.7 390.4 L843.2 384.7 L862.1 386.6"/>
<path class="p"  d="M792.3 392.3 L809.2 390.4 L818.7 396"/>
<path class="h"  d="M748.9 318.7 C750.4 317.7 755.2 313.1 758.3 313 C761.4 313 764.6 317 767.7 318.3 C770.9 319.6 774 320.5 777.2 320.6 C780.3 320.6 785 319 786.6 318.7"/>
<ellipse class="p"  cx="761.1" cy="320.2" rx="2.1" ry="2.5"/>
<path class="p"  d="M750.8 324.3 C752.3 325 756.7 327.8 760.2 328.1 C763.6 328.4 767.1 326.9 771.5 326.2 C775.9 325.6 781.6 325.6 786.6 324.3 C791.6 323.1 797.3 320.1 801.7 318.7 C806.1 317.3 811.1 316.3 813 315.8"/>
<path class="p"  d="M767.7 338.5 L748.9 347 L730 360.2"/>
<path class="p"  d="M730 352.6 L752.6 343.2 L786.6 345.1 L796 350.8"/>
<path class="p"  d="M730 365.8 L758.3 360.2 L782.8 360.2 L796 355.5"/>
<path class="p"  d="M730 375.3 L747 380.9 L767.7 392.3 L775.3 399.8"/>
<path class="n"  d="M735.7 386.6 L756.4 397.9"/>
<path class="k"  d="M741.3 316.8 L747 318.7 L748.9 331.9 L743.2 332.8 Z"/>
<path class="h"  d="M737.5 301.7 L743.2 305.5 L741.3 311.1"/>
<path class="k"  d="M747.9 302.6 L752.6 304.5 L751.7 309.2"/>
<!-- crankcase 12 left (frame E) -->
<path class="h"  d="M608.3 347.4 C608.6 346.8 609.7 343.5 610.6 342.8 C611.5 342.1 613.5 341.5 615.1 342.1 C616.7 342.7 620.6 346.1 622.6 347.4 C624.7 348.7 628.2 351.5 630.2 351.9 C632.2 352.3 635.7 351.6 637.7 350.4 C639.7 349.2 643.5 344.6 645.3 342.8 C647.1 341 651.2 338 651.3 336.8 C651.4 335.6 647.1 334.8 646 333.8 C644.9 332.8 643.1 330.7 643 329.2 C642.9 327.8 644.4 324.4 645.3 323.2 C646.2 322 649.6 321.2 649.8 320.2 C650 319.2 646.8 316.9 646.8 315.7 C646.8 314.5 648.4 312 649.8 311.1 C651.2 310.3 654.9 309.4 657.4 309.3 C659.8 309.2 665.5 309.7 667.9 310.4 C670.3 311 673.9 312.8 675.5 314.2 C677.1 315.5 679.1 318.2 680 320.2 C680.9 322.2 682.1 326.8 682.3 329.2 C682.5 331.7 682.2 335.9 681.5 338.3 C680.8 340.7 678.2 345.2 677 347.4 C675.8 349.5 673.1 353.2 672.5 354.2"/>
<path class="h"  d="M608.3 347.4 C608.4 348 608.7 350.7 609.4 351.9 C610.1 353.1 612.2 355.2 613.6 356.4 C615 357.6 617.8 360.5 619.6 360.9 C621.4 361.4 625.2 360.1 627.2 359.7 C629.2 359.4 632.5 358.7 634.7 358.2 C636.9 357.8 641.6 357.5 643.8 356.4 C646 355.4 649.5 352 651.3 350.4 C653.1 348.8 655.5 345.7 657.4 344.3 C659.2 342.9 663.1 341 664.9 339.8 C666.7 338.6 669.7 336.9 670.9 335.3 C672.2 333.7 673.8 329.5 674 327.7 C674.2 325.9 672.7 322.5 672.5 321.7"/>
<path class="p"  d="M622.6 351.9 C623.9 352.4 627.7 354.8 630.2 355.2 C632.7 355.6 635 355.6 637.7 354.2 C640.5 352.7 644 349 646.8 346.6 C649.6 344.2 651.8 341.6 654.3 339.8 C656.9 338.1 660.6 336.7 661.9 336"/>
<path class="h"  d="M648.3 325.5 C649 324.8 650.8 323.6 652.8 323.5 C654.8 323.4 658.6 324.3 660.4 325 C662.2 325.7 663.7 326.7 663.7 327.7 C663.7 328.7 662.2 330.8 660.4 331.1 C658.6 331.4 654.8 330.1 652.8 329.5 C650.9 329 649.4 328.4 648.6 327.7 C647.8 327.1 647.6 326.2 648.3 325.5 Z"/>
<path class="k"  d="M652.1 325.9 L660.4 327 L659.6 328.9 L652.8 327.7 Z"/>
<ellipse class="p"  cx="655.1" cy="312.6" rx="1.5" ry="1.2"/>
<ellipse class="h"  cx="662.6" cy="336.8" rx="2.1" ry="1.4" transform="rotate(-20 662.6 336.8)"/>
<path class="h"  d="M619.6 351.1 C619.2 351.3 617.4 351.4 616.9 351.9 C616.5 352.4 616.5 353.7 616.9 354.2 C617.3 354.6 618.9 354.5 619.3 354.6"/>
<path class="p"  d="M666.4 314.2 C667.2 315.2 670.1 317.9 670.9 320.2 C671.8 322.5 671.9 325.5 671.7 327.7 C671.4 330 669.8 332.8 669.4 333.8"/>
<path class="h"  d="M619.6 360.9 C620.9 362.2 624.9 366.1 627.2 368.5 C629.4 370.9 631.7 372.8 633.2 375.3 C634.7 377.8 635 381.2 636.2 383.6 C637.5 386 639.2 387.9 640.8 389.6 C642.3 391.4 644.5 393.4 645.3 394.2"/>
<path class="h" style="stroke-width:3.5" d="M632.5 368.5 L649.8 394.2"/>
<ellipse class="pw"  cx="637" cy="380.6" rx="0.9" ry="1.2"/>
<ellipse class="pw"  cx="641.5" cy="388.1" rx="0.9" ry="1.2"/>
<path class="p"  d="M627.2 368.5 L622.6 374.5 L625.7 383.6 L634.7 395.7"/>
<path class="h"  d="M634.7 367 L681.5 388.1"/>
<path class="p"  d="M640.8 365.5 L684.5 383.6"/>
<path class="h"  d="M649.8 360.9 L681.5 372.3 L690.6 374.5"/>
<path class="p"  d="M652.8 356.4 L678.5 368.5"/>
<path class="p"  d="M637.7 374.5 L660.4 386.6 L670.9 395.7"/>
<path class="p"  d="M649.8 394.2 L657.4 383.6 L663.4 386.6"/>
<path class="p"  d="M651.3 380.6 L657.4 395.7 L654.3 404.7"/>
<path class="h"  d="M690.6 320.2 L684.5 350.4 L682.3 368.5"/>
<path class="h"  d="M696.6 323.2 L690.6 353.4 L688.3 368.5"/>
<path class="p"  d="M684.5 318.7 L683 335.3 L678.5 353.4"/>
<path class="p"  d="M677 347.4 C676.7 348.1 675.2 350.6 675.5 351.9 C675.7 353.1 678 354.4 678.5 354.9"/>
<ellipse class="h"  cx="695.1" cy="377.5" rx="3.3" ry="3.9"/>
<ellipse class="p"  cx="695.1" cy="377.5" rx="1.7" ry="2.1"/>
<path class="p"  d="M689.1 374.5 C689.3 376 689.3 381.6 690.6 383.6 C691.8 385.6 694.8 386.9 696.6 386.6 C698.4 386.4 700.4 382.8 701.1 382.1"/>
<path class="k"  d="M672.5 395.7 L684.5 398.7 L683.8 410.8 L675.5 409.2 Z"/>
<path class="h"  d="M670.9 398.7 L678.5 425.8"/>
<path class="p"  d="M678.5 410.8 L690.6 421.3"/>
<path class="h"  d="M654.3 421.3 L678.5 431.9"/>
<path class="p"  d="M660.4 401.7 L670.9 409.2"/>
<path class="h"  d="M615 402.5 L632.5 397.5 L648.8 393.8"/>
<path class="h"  d="M615 402.5 L616.2 415 L637.5 425 L645 430 L667.5 440 L675 447.5 L672.5 457.5 L683.8 462.5 L692.5 460 L705 457.5"/>
<path class="p"  d="M616.2 410 L637.5 420 L652.5 415 L648.8 405"/>
<ellipse class="p"  cx="638" cy="421.2" rx="2.2" ry="2.8"/>
<path class="p"  d="M652.5 415 L670 425 L680 422.5 L682.5 440 L675 447.5"/>
<path class="p"  d="M670 425 L672.5 410 L682.5 405"/>
<ellipse class="p"  cx="689.5" cy="456.2" rx="2.2" ry="2.8"/>
<ellipse class="p"  cx="700" cy="457" rx="1.8" ry="2"/>
<path class="h"  d="M683.8 447.5 C684.6 447.9 686.9 449 688.8 450 C690.6 451 692.3 452.5 695 453.8 C697.7 455 703.3 456.9 705 457.5"/>
<path class="h"  d="M705 457.5 C708.3 456.5 718.3 454 725 451.2 C731.7 448.5 740 443.5 745 441.2 C750 439 753.3 438.1 755 437.5"/>
<path class="p"  d="M702.5 452.5 C706.2 451.5 718.3 448.8 725 446.2 C731.7 443.8 738.3 440.2 742.5 437.5 C746.7 434.8 748.8 431.2 750 430"/>
<ellipse class="p"  cx="760" cy="436.2" rx="2.2" ry="2.8"/>
<path class="h"  d="M755 437.5 C755.4 438.3 756 441.9 757.5 442.5 C759 443.1 762.1 442.5 763.8 441.2 C765.4 440 766.5 437.5 767.5 435 C768.5 432.5 769.6 427.7 770 426.2"/>
<path class="h"  d="M770 426.2 L785 418 L807.5 408 L835 400"/>
<path class="p"  d="M767.5 422.5 L785 413.8 L807.5 403.8 L830 397.5"/>
<path class="p"  d="M750 430 L770 400"/>
<ellipse class="h"  cx="725" cy="325" rx="14.5" ry="18" transform="rotate(25 725 325)"/>
<ellipse class="p"  cx="725" cy="325" rx="10.5" ry="14" transform="rotate(25 725 325)"/>
<ellipse class="n"  cx="725" cy="325" rx="7.5" ry="11" transform="rotate(25 725 325)"/>
<path class="h"  d="M705 312.5 C704.2 314.6 700.4 321.2 700 325 C699.6 328.8 700.4 332.5 702.5 335 C704.6 337.5 710.8 339.2 712.5 340"/>
<path class="h"  d="M712.5 281.2 L745 295 L747.5 303.8 L740 310"/>
<path class="h"  d="M712.5 281.2 L707.5 290 L712.5 295 L735 303.8"/>
<path class="h"  d="M707.5 290 C705.4 291 698.3 293.3 695 296.2 C691.7 299.2 689.2 303.1 687.5 307.5 C685.8 311.9 685.8 317.9 685 322.5 C684.2 327.1 683.3 330.4 682.5 335 C681.7 339.6 680 345.8 680 350 C680 354.2 682.1 358.3 682.5 360"/>
<path class="p"  d="M712.5 295 C710.8 296.2 705 299.2 702.5 302.5 C700 305.8 698.8 310.4 697.5 315 C696.2 319.6 695.6 324.2 695 330 C694.4 335.8 694 346.7 693.8 350"/>
<path class="p"  d="M735 303.8 L738.8 312.5 L747.5 303.8"/>
<path class="p"  d="M682.5 360 L695 380 L690 390 L675 400 L648.8 393.8"/>
<path class="p"  d="M670 347.5 L690 355 L695 367.5"/>
<path class="p"  d="M660 367.5 L682.5 377.5 L690 390"/>
<path class="n"  d="M665 375 L680 382.5"/>
<path class="n"  d="M662.5 380 L677.5 387.5"/>
<ellipse class="p"  cx="695" cy="377.5" rx="3" ry="3.5"/>
<path class="h"  d="M705 367.5 C706.2 367.1 709.6 364.6 712.5 365 C715.4 365.4 720.4 367.1 722.5 370 C724.6 372.9 725.4 377.9 725 382.5 C724.6 387.1 722.5 393.8 720 397.5 C717.5 401.2 713.3 403.3 710 405 C706.7 406.7 702.9 407.9 700 407.5 C697.1 407.1 693.8 403.3 692.5 402.5"/>
<path class="n"  d="M706.2 372.5 C707.3 374.2 712.7 377.9 712.5 382.5 C712.3 387.1 706.2 397.1 705 400"/>
<path class="n"  d="M708.8 373.2 C709.7 374.9 714.7 378.7 714.5 383.2 C714.3 387.8 708.7 397.8 707.5 400.8"/>
<path class="n"  d="M711.2 374 C712.1 375.7 716.7 379.4 716.5 384 C716.3 388.6 711.1 398.6 710 401.5"/>
<path class="n"  d="M713.8 374.8 C714.5 376.4 718.7 380.2 718.5 384.8 C718.3 389.3 713.5 399.3 712.5 402.2"/>
<path class="n"  d="M716.2 375.5 C717 377.2 720.7 380.9 720.5 385.5 C720.3 390.1 715.9 400.1 715 403"/>
<path class="p"  d="M690 400 C691.7 401.7 696.2 408.3 700 410 C703.8 411.7 708.8 411.2 712.5 410 C716.2 408.8 720.8 403.8 722.5 402.5"/>
<path class="p"  d="M725 390 L770 390 L775 400"/>
<path class="p"  d="M730 400 L745 412.5"/>
<path class="p"  d="M682.5 425 L702.5 422.5 L715 415"/>
<path class="p"  d="M707.5 412.5 L715 425 L735 430"/>
<path class="p"  d="M722.5 397.5 L735 402.5"/>
<path class="n"  d="M705 415 L712.5 422.5"/>
<path class="p"  d="M720 350 L730 347.5 L731.2 355 L725 357.5 Z"/>
<path class="p"  d="M715 355 L727.5 362.5 L725 370"/>
<!-- crankcase extras -->
<path class="h"  d="M878.8 260.5 L900 245"/>
<path class="p"  d="M885 266.2 L905 251.2"/>
<path class="h"  d="M880 285 C881.7 283.3 885 278.2 890 275 C895 271.8 906.7 267.1 910 265.5"/>
<path class="p"  d="M885 290 C884.2 291.7 880.4 296.7 880 300 C879.6 303.3 880.4 306.7 882.5 310 C884.6 313.3 888.8 317.9 892.5 320 C896.2 322.1 900.4 323.3 905 322.5 C909.6 321.7 915.8 318.3 920 315 C924.2 311.7 928.3 304.6 930 302.5"/>
<path class="h"  d="M970 217.5 C969.4 216.9 965.8 214.8 966.2 213.8 C966.7 212.7 970.2 211.5 972.5 211.2 C974.8 211 978.8 212.3 980 212.5"/>
<path class="h"  d="M958.8 228.8 C958.3 230.2 955.8 234.7 956.2 237.5 C956.7 240.3 959 243.8 961.2 245.5 C963.5 247.2 968.5 247.6 970 248"/>
<path class="p"  d="M926.2 352.5 L920 355 L915 352.5"/>
<path class="h"  d="M855 300 L847.5 310 L842.5 330 L847.5 350"/>
<path class="p"  d="M862.5 297.5 L855 320 L857.5 340"/>
<path class="h"  d="M830 345 C830.4 342.5 831.9 340.4 833.8 340 C835.6 339.6 839.8 340.8 841.2 342.5 C842.7 344.2 842.9 347.7 842.5 350 C842.1 352.3 840.6 355.4 838.8 356.2 C836.9 357.1 832.7 356.9 831.2 355 C829.8 353.1 829.6 347.5 830 345 Z"/>
<path class="h"  d="M817.5 355 L842.5 360 L862.5 370 L885 377.5"/>
<path class="p"  d="M825 370 L833.8 395"/>
<path class="p"  d="M855 372.5 L852.5 387.5"/>
<path class="p"  d="M865 375 L862.5 385"/>
<path class="h"  d="M735 332.5 L770 325 L792.5 325"/>
<path class="p"  d="M735 340 L775 332.5"/>
<path class="p"  d="M745 350 L785 345 L802.5 350"/>
<path class="p"  d="M742.5 357.5 L770 357.5"/>
<path class="p"  d="M730 367.5 L755 367.5 L770 375"/>
<path class="h"  d="M720 340 C720.8 340.8 722.5 344 725 345 C727.5 346 731.7 347.1 735 346.2 C738.3 345.4 743.3 341 745 340"/>
<path class="p"  d="M712.5 340 L725 350 L720 360 L710 357.5"/>
<path class="p"  d="M700 407.5 L712.5 425 L735 430"/>
<path class="p"  d="M655 425 L670 433.8"/>
<path class="p"  d="M622.5 425 L645 436.2"/>
<!-- gasket 31 (frame K) -->
<path class="p"  d="M301.2 710 C300.8 707.7 297.8 695.2 297.5 690 C297.2 684.8 297.9 670.8 298.8 665 C299.6 659.2 303.5 644.2 305 640 C306.5 635.8 310.1 630.9 311.2 628.8 C312.4 626.6 312.8 624.3 315 621.2 C317.2 618.2 326.2 607 330 602.5 C333.8 598 344.3 586 347.5 582.5 C350.7 579 355.8 574.2 357.5 572.5 C359.2 570.8 361 568.4 362.5 568 C364 567.6 368.4 568.2 370 568.8 C371.6 569.3 374.8 572.7 376.2 572.5 C377.7 572.3 380.9 567.7 382.5 567 C384.1 566.3 388.8 565.6 390 566.2 C391.2 566.9 391.3 571.9 392.5 572.5 C393.7 573.1 396.8 572.3 400 571.2 C403.2 570.2 416.9 565.5 420 563.8 C423.1 562 424.8 557 426.2 556.2 C427.7 555.5 430.9 557.4 432.5 557.5 C434.1 557.6 436.2 558.8 440 557.5 C443.8 556.2 459.2 549.8 465 546.2 C470.8 542.8 486.2 530.6 490 527.5 C493.8 524.4 495.2 521.5 497.5 520 C499.8 518.5 505 517 510 515 C515 513 534.8 504.7 540 502.5 C545.2 500.3 553.2 497 555 496.2"/>
<path class="p"  d="M317.5 630 C318.7 628 324.3 616.9 327.5 612.5 C330.7 608.1 341.5 596.1 345 592.5 C348.5 588.9 354.3 582.9 357.5 581.2 C360.7 579.6 368.7 578.8 372.5 578.8 C376.3 578.8 386.5 581.4 390 581.2 C393.5 581.1 399.3 578.7 402.5 577.5 C405.7 576.3 414.9 571.5 417.5 571.2 C420.1 571 423.8 572.8 425 575 C426.2 577.2 427.2 586.2 427.5 590 C427.8 593.8 426.3 605.2 427.5 607.5 C428.7 609.8 436.3 609.7 437.5 610"/>
<path class="p"  d="M317.5 630 C316.5 633.3 311.2 648.3 310 655 C308.8 661.7 308.1 675 308.8 680 C309.4 685 312.5 690.2 315 692.5 C317.5 694.8 323.5 697.2 327.5 697.5 C331.5 697.8 339.3 697 345 695 C350.7 693 366.7 684.2 370 682.5"/>
<path class="p"  d="M301.2 710 C302.4 709.7 306.5 708.9 310 708 C313.5 707.1 322.5 704.1 327.5 703 C332.5 701.9 341.5 702 347.5 700 C353.5 698 369.2 689.6 372.5 688"/>
<ellipse class="p"  cx="316.2" cy="627" rx="2.2" ry="3.2" transform="rotate(20 316.2 627)"/>
<ellipse class="p"  cx="307.5" cy="705" rx="2" ry="2.8" transform="rotate(20 307.5 705)"/>
<ellipse class="k"  cx="362.5" cy="570.5" rx="1.8" ry="2.8" transform="rotate(15 362.5 570.5)"/>
<ellipse class="k"  cx="424.2" cy="562" rx="1.8" ry="2.8" transform="rotate(15 424.2 562)"/>
<ellipse class="k"  cx="495.5" cy="523.8" rx="1.8" ry="2.8" transform="rotate(15 495.5 523.8)"/>
<path class="p"  d="M465 597.5 C465.2 594.2 464.9 578.2 466.2 572.5 C467.6 566.8 471.8 559.7 475 555 C478.2 550.3 484.7 542.5 490 537.5 C495.3 532.5 506.3 522.5 515 517.5 C523.7 512.5 549.7 502.3 555 500"/>
<path class="t"  d="M422.5 522.5 L430 565 L437.5 597.5 L445 640"/>
<path class="t"  d="M297.5 591.2 L320 578.8"/>
<path class="t"  d="M327.5 575 L352.5 561.2"/>
<path class="t"  d="M360 557 L365 554.5"/>
<path class="t"  d="M376.2 548.8 L415 527.5"/>
<path class="t"  d="M316.2 627 L377.5 660"/>
<path class="t"  d="M400 672.5 L442.5 695"/>
<path class="p"  d="M435 620 C434.6 617.5 437.5 612.1 440 610 C442.5 607.9 446.2 608.8 450 607.5 C453.8 606.2 460.8 601.7 462.5 602.5 C464.2 603.3 461.7 609.6 460 612.5 C458.3 615.4 455.4 617.9 452.5 620 C449.6 622.1 445.4 625 442.5 625 C439.6 625 435.4 622.5 435 620 Z"/>
<ellipse class="p"  cx="440" cy="619.5" rx="2.5" ry="2"/>
<path class="n"  d="M442.5 610 L450 615 L452.5 607.5"/>
<path class="p"  d="M455 595 L457.5 600 L455 602.5"/>
<path class="h"  d="M385 662.5 C387.1 660 392.5 652.5 397.5 647.5 C402.5 642.5 409.6 636.7 415 632.5 C420.4 628.3 427.5 624.2 430 622.5"/>
<path class="p"  d="M390 665 C392.1 662.5 397.5 655 402.5 650 C407.5 645 414.6 639 420 635 C425.4 631 432.5 627.7 435 626.2"/>
<path class="k"  d="M395 655 C397.1 652.9 402.9 646.5 407.5 642.5 C412.1 638.5 420 633.1 422.5 631.2"/>
<path class="p"  d="M383.8 662.5 L382.5 675 L372.5 692.5 L373.8 702.5 L382.5 707.5 L390 702.5 L392.5 690 L397.5 675 L398.8 670"/>
<ellipse class="p"  cx="383" cy="700" rx="2.2" ry="3"/>
<ellipse class="p"  cx="399.2" cy="672" rx="2" ry="2.5"/>
<path class="p"  d="M377.5 707.5 L377.5 733.8"/>
<path class="p"  d="M387.5 707.5 L388.8 733.8"/>
<!-- cover 20 (frame K part) -->
<path class="h"  d="M412.5 670 L440 650 L490 622.5 L555 588.8"/>
<path class="p"  d="M445 685 L490 662.5 L555 632.5"/>
<ellipse class="p"  cx="452.5" cy="658" rx="9.5" ry="8.2" transform="rotate(-10 452.5 658)"/>
<path class="p"  d="M475 615 L480 610 L490 607.5 L497.5 600 L502.5 597.5"/>
<path class="p"  d="M475 615 L476.2 620 L487.5 615"/>
<ellipse class="p"  cx="503.8" cy="605.5" rx="3" ry="3.5"/>
<path class="h"  d="M497.5 600 C499 598.3 502.5 596.9 505 597.5 C507.5 598.1 511.9 601.2 512.5 603.8 C513.1 606.2 510.6 610.8 508.8 612.5 C506.9 614.2 503.3 614.6 501.2 613.8 C499.2 612.9 496.9 609.8 496.2 607.5 C495.6 605.2 496 601.7 497.5 600 Z"/>
<path class="p"  d="M505 612.5 L540 633.8 L550 630 L550 625"/>
<path class="h"  d="M512.5 603.8 L555 581.2"/>
<path class="p"  d="M510 600 L555 577"/>
<path class="p"  d="M516.2 607.5 L530 612.5"/>
<path class="p"  d="M533.8 615 L541.2 620"/>
<!-- cover 20 (frame L) -->
<path class="p"  d="M455 550 C457 549 465 545.7 470 542.5 C475 539.3 487.8 529.6 492.5 526.2 C497.2 522.9 499 521 505 517.5 C511 514 529.5 504 537.5 500 C545.5 496 560.3 489.7 565 487.5 C569.7 485.3 570.5 482.8 572.5 483.8 C574.5 484.8 578.3 492.2 580 495 C581.7 497.8 583.7 501.7 585 505 C586.3 508.3 588.8 516.7 590 520 C591.2 523.3 591.8 527.7 593.8 530 C595.8 532.3 603.5 536.5 605 537.5"/>
<path class="p"  d="M465 597.5 C465.2 594.5 464.6 581 466.2 575 C467.9 569 473.3 558.2 477.5 552.5 C481.7 546.8 491.2 537.5 497.5 532.5 C503.8 527.5 518 519 525 515 C532 511 544.3 505.2 550 502.5 C555.7 499.8 563.8 495 567.5 495 C571.2 495 575.2 499.5 577.5 502.5 C579.8 505.5 583.8 513.2 585 517.5 C586.2 521.8 586.2 530.3 586.2 535 C586.2 539.7 585.2 550.2 585 552.5"/>
<ellipse class="k"  cx="494.5" cy="525" rx="1.8" ry="2.8" transform="rotate(15 494.5 525)"/>
<ellipse class="p"  cx="570.5" cy="485" rx="2" ry="2.5"/>
<path class="t"  d="M517.5 501.2 L526.2 505.5"/>
<path class="t"  d="M540 512.5 L585 536.2"/>
<path class="p"  d="M593.8 540 C594.6 539.4 597.3 536 598.8 536.2 C600.2 536.5 601.9 540.4 602.5 541.2"/>
<path class="h"  d="M495 602.5 L575 563.8"/>
<path class="p"  d="M498.8 597.5 L572.5 560.5"/>
<path class="h"  d="M580 560 L615 542.5 L640 527.5"/>
<path class="p"  d="M582.5 565 L617.5 547.5 L637.5 537.5"/>
<path class="k"  d="M585 557.5 L615 545.5"/>
<path class="h"  d="M637.5 527.5 L642.5 524.5 L655 528.8 L656.2 536.2 L650 538.8"/>
<path class="k"  d="M647.5 527.5 L655 530 L655 535.5 L648.8 533.8 Z"/>
<path class="h"  d="M496.2 605 C496.7 602.7 501.2 600.2 503.8 600 C506.2 599.8 510.4 601.9 511.2 603.8 C512.1 605.6 510.4 609.6 508.8 611.2 C507.1 612.9 503.3 614.8 501.2 613.8 C499.2 612.7 495.8 607.3 496.2 605 Z"/>
<ellipse class="p"  cx="503.8" cy="606.2" rx="2.2" ry="2.8"/>
<path class="p"  d="M473.8 610 L480 605 L495 602.5"/>
<path class="p"  d="M473.8 610 L475 617.5 L492.5 610"/>
<path class="p"  d="M505 612.5 L540 632.5 L547.5 629.5 L547.5 623.8"/>
<path class="p"  d="M512.5 607.5 L522.5 610"/>
<path class="p"  d="M526.2 612.5 L542.5 622.5"/>
<path class="h"  d="M568.8 566.2 C569.2 563.9 573.8 561.5 576.2 561.2 C578.8 561 582.9 563 583.8 565 C584.6 567 582.9 571.2 581.2 573 C579.6 574.8 575.8 576.6 573.8 575.5 C571.7 574.4 568.3 568.6 568.8 566.2 Z"/>
<ellipse class="p"  cx="576.2" cy="568" rx="2.2" ry="2.8"/>
<path class="p"  d="M575 575 L610 597 L617.5 593 L617.5 588.8"/>
<path class="p"  d="M585 567.5 L595 578.8 L615 590"/>
<path class="h"  d="M552.5 587.5 C552.7 586 552.1 581.2 553.8 578.8 C555.4 576.2 559.8 573.3 562.5 572.5 C565.2 571.7 568.8 573.5 570 573.8"/>
<path class="p"  d="M556.2 586.2 C556.9 585 557.9 580.4 560 578.8 C562.1 577.1 567.3 576.7 568.8 576.2"/>
<path class="p"  d="M552.5 587.5 L555 590 L565 583.8"/>
<path class="p"  d="M511.2 603.8 L555 582.5"/>
<path class="h"  d="M515 597.5 L550 580"/>
<ellipse class="p"  cx="621.2" cy="577" rx="3" ry="3"/>
<path class="h"  d="M655 533.8 C657.3 536.2 667.5 548 672.5 552.5 C677.5 557 687.5 563.5 692.5 567.5 C697.5 571.5 706.9 578.2 710 582.5 C713.1 586.8 715.3 595 715.5 600 C715.7 605 713.1 614.7 711.2 620 C709.4 625.3 704.4 635.3 701.2 640 C698.1 644.7 691.3 651.5 687.5 655 C683.7 658.5 676.5 663.8 672.5 666.2 C668.5 668.8 661.8 672.2 657.5 673.8 C653.2 675.3 643.7 677.2 640 678 C636.3 678.8 631.3 679.7 630 680"/>
<path class="p"  d="M640 527.5 L670 542.5"/>
<path class="p"  d="M650 540 L670 555 L685 566.2"/>
<path class="p"  d="M595 620 C599.7 618 620.3 608.7 630 605 C639.7 601.3 659.5 594.5 667.5 592.5 C675.5 590.5 685.3 589.3 690 590 C694.7 590.7 700.5 594.8 702.5 597.5 C704.5 600.2 705.2 606.3 705 610 C704.8 613.7 702.9 621 701.2 625 C699.6 629 695.3 636.3 692.5 640 C689.7 643.7 683.7 649.8 680 652.5 C676.3 655.2 667 659.4 665 660.5"/>
<path class="h"  d="M455 670 L560 620 L630 590 L685 567.5"/>
<path class="p"  d="M455 640 L485 626.2"/>
<path class="p"  d="M455 680 L482.5 666.2"/>
<path class="p"  d="M492.5 661.2 L530 642.5"/>
<path class="p"  d="M562.5 627.5 L605 607.5"/>
<path class="p"  d="M645 590 L670 581.2"/>
<path class="p"  d="M617.5 627.5 L655 612.5"/>
<path class="p"  d="M662.5 610 L695 597.5"/>
<path class="p"  d="M675 615 L700 600"/>
<path class="h"  d="M455 697.5 L475 687.5 L540 652.5 L605 627.5 L625 622.5"/>
<path class="p"  d="M537.5 655 L545 675"/>
<path class="h"  d="M625 635 C625.8 637.8 631.7 648.2 635 652.5 C638.3 656.8 642.8 660.5 645 660.5 C647.2 660.5 648.8 655.5 648 652.5 C647.2 649.5 643 645.3 640 642.5 C637 639.7 632.5 636.8 630 635.5 C627.5 634.2 624.2 632.2 625 635 Z"/>
<path class="p"  d="M627.5 625.5 C631.2 625.1 644.2 622.2 650 623 C655.8 623.8 659.2 626.3 662.5 630 C665.8 633.7 668.3 640.8 670 645 C671.7 649.2 672.1 653.3 672.5 655"/>
<path class="n"  d="M640 627.5 C642.5 628.3 651.2 629.6 655 632.5 C658.8 635.4 660.4 641.2 662.5 645 C664.6 648.8 666.7 653.3 667.5 655"/>
<path class="p"  d="M615 640 C615 642.5 616.2 650 615 655 C613.8 660 608.8 667.5 607.5 670"/>
<path class="p"  d="M630 680 C632.5 679.6 640 680 645 677.5 C650 675 655.8 669.2 660 665 C664.2 660.8 668.3 654.6 670 652.5"/>
<path class="p"  d="M660 660 L695 642.5 L702.5 627.5"/>
<path class="n"  d="M658.8 655 L690 640"/>
<ellipse class="k"  cx="608.8" cy="642.5" rx="3.5" ry="4"/>
<path class="h"  d="M565 663.8 L572.5 660 L570 666.2 L580 662.5"/>
<path class="p"  d="M583.8 668.8 L620 687.5 L617.5 692.5 L581.2 673.8 Z"/>
<path class="p"  d="M585 669.5 L583 674.5"/>
<path class="p"  d="M587.8 670.9 L585.8 675.9"/>
<path class="p"  d="M590.5 672.2 L588.5 677.2"/>
<path class="p"  d="M593.2 673.6 L591.2 678.6"/>
<path class="h"  d="M618.8 686.2 C620.1 684.9 622.9 684.1 625 684.5 C627.1 684.9 630.2 687 631.2 688.8 C632.3 690.5 632.1 693.2 631.2 695 C630.4 696.8 628.1 699.1 626.2 699.5 C624.4 699.9 621.5 698.7 620 697.5 C618.5 696.3 617.2 694.4 617 692.5 C616.8 690.6 617.4 687.6 618.8 686.2 Z"/>
<path class="t"  d="M617.5 698.8 L600 723.8"/>
<path class="t"  d="M670 541.2 L702.5 527.5 L720 533.8"/>
<path class="t"  d="M690 662.5 L720 677.5"/>
<path class="h"  d="M540 675 C540.6 676.7 543.3 680.8 543.8 685 C544.2 689.2 543.1 695.4 542.5 700 C541.9 704.6 539.2 708.5 540 712.5 C540.8 716.5 546.2 721.9 547.5 723.8"/>
<path class="p"  d="M545 695 L595 670"/>
<path class="p"  d="M542.5 705 L605 677.5 L630 680"/>
<!-- cover 20 (frame M) -->
<path class="h"  d="M412.5 672.5 L442.5 655 L480 635"/>
<path class="h"  d="M445 687.5 L480 667.5 L530 645 L595 617.5"/>
<path class="h"  d="M460 707.5 C460.2 706.5 461.5 699 462.5 697.5 C463.5 696 465.8 694.5 470 692.5 C474.2 690.5 498.2 680.5 505 677.5 C511.8 674.5 534.2 664 537.5 662.5"/>
<path class="h"  d="M460 707.5 C459.9 709.2 458.5 722 458.8 725 C459 728 461.4 735.6 462.5 737.5 C463.6 739.4 468.2 743.2 470 743.8 C471.8 744.2 476 743.4 480 742.5 C484 741.6 503.8 736.9 510 735 C516.2 733.1 539.2 724.9 542.5 723.8"/>
<path class="p"  d="M466.2 715 C466.5 717.9 466.2 728.3 467.5 732.5 C468.8 736.7 472.7 738.8 473.8 740"/>
<path class="h"  d="M442.5 692.5 C440.8 694.5 432.3 703.2 430 707.5 C427.7 711.8 425.3 720.7 425 725 C424.7 729.3 426.5 736.7 427.5 740 C428.5 743.3 430.5 747.8 432.5 750 C434.5 752.2 438.8 755.4 442.5 756.2 C446.2 757.1 455.3 757.1 460 756.2 C464.7 755.4 474.2 751.7 477.5 750 C480.8 748.3 484 744.6 485 743.8"/>
<path class="h" stroke-dasharray="16 7" d="M442.5 703.8 L441.2 800 L435 798.8"/>
<path class="h" stroke-dasharray="14 7" d="M442.5 703.8 L460 710"/>
<ellipse class="h"  cx="522.5" cy="697.5" rx="13.8" ry="18" transform="rotate(30 522.5 697.5)"/>
<ellipse class="h"  cx="521.2" cy="698.8" rx="9" ry="12" transform="rotate(30 521.2 698.8)"/>
<ellipse class="p"  cx="521.2" cy="699.5" rx="5.5" ry="7.5" transform="rotate(30 521.2 699.5)"/>
<path class="h"  d="M505 710 L510 730 L547.5 722.5 L542.5 710 L543.8 677.5 L535 673.8"/>
<path class="p"  d="M535 673.8 L527.5 676.2"/>
<ellipse class="h"  cx="477.5" cy="722.5" rx="6.2" ry="5.5" transform="rotate(-20 477.5 722.5)"/>
<path class="p"  d="M492.5 717.5 C493.1 716.8 495.3 713.2 496.2 713 C497.2 712.8 498.4 715.3 498 716.2 C497.6 717.2 494.2 719 493.8 718.8 C493.2 718.5 494.8 715.6 495 715"/>
<ellipse class="p"  cx="452.5" cy="658.8" rx="9.5" ry="8" transform="rotate(-15 452.5 658.8)"/>
<path class="k"  d="M500 740 L510 737.5"/>
<path class="t"  d="M542.5 737.5 L577.5 757.5"/>
<path class="t"  d="M581.2 760 L585 762.5"/>
<path class="h"  d="M565 660 L570 665 L567.5 667.5 L580 657.5 L576.2 662.5"/>
<path class="h"  d="M582.5 668.8 L595 673.8 L595 678.8 L583.8 673.8 Z"/>
<ellipse class="p"  cx="398.8" cy="671.2" rx="2.2" ry="2.8"/>
<path class="p"  d="M393.8 667.5 L391.2 690 L381.2 684.5 L371.2 693.8 L371.2 705 L381.2 708 L388.8 703.8 L392.5 692.5 L395 673.8"/>
<ellipse class="p"  cx="383.8" cy="700.5" rx="2" ry="2.8"/>
<path class="p"  d="M377.5 707.5 L378.8 740 L377.5 755 L376.2 762.5 L380 770 L392.5 772.5 L398.8 765 L395 755 L390 745 L390 720 L392.5 712.5"/>
<path class="p"  d="M381.2 710 L382.5 737.5 L381.2 755"/>
<ellipse class="p"  cx="391.2" cy="765" rx="2.5" ry="2.2"/>
<ellipse class="p"  cx="390" cy="748.8" rx="1.5" ry="2"/>
<path class="p"  d="M392.5 715 L412.5 720 L420 732.5 L421.2 745"/>
<path class="p"  d="M412.5 720 L430 720"/>
<path class="h"  d="M397.5 732.5 L412.5 740 L425 745"/>
<path class="k"  d="M405 746.2 L418.8 748.8 L417.5 760 L405 757.5 Z"/>
<path class="p"  d="M395 755 L405 760"/>
<path class="t"  d="M401.2 673.8 L440 693.8 L330 750"/>
<path class="t"  d="M397.5 737.5 L422.5 768.8 L390 785"/>
<!-- dowel 32 -->
<path class="h"  d="M401.2 781.2 L405 780 L427.5 790 L430 795 L426.2 799.5 L402.5 790 Z"/>
<ellipse class="p"  cx="427.5" cy="795" rx="2" ry="3" transform="rotate(-20 427.5 795)"/>
<path class="t"  d="M413.8 796.2 L396.2 820"/>
<!-- screw 2 lower -->
<path class="h"  d="M348.8 780 C349.8 778.3 351.8 775.8 353.8 775.5 C355.7 775.2 359 776.6 360.5 778 C362 779.4 362.8 781.8 362.5 783.8 C362.2 785.8 360.6 788.9 358.8 790 C356.9 791.1 353.1 791.2 351.2 790.5 C349.4 789.8 347.9 787.2 347.5 785.5 C347.1 783.8 347.7 781.7 348.8 780 Z"/>
<path class="p"  d="M351.2 782.5 L360 783.8"/>
<path class="p"  d="M355 778.8 L355.5 788.8"/>
<path class="p"  d="M350 780 L330 770"/>
<path class="p"  d="M348 786.2 L327.5 776.2"/>
<!-- items 6,8,9,10 (frame N) -->
<path class="h"  d="M703 111.2 L703 220"/>
<path class="h"  d="M703 220 C703.5 220.8 704.7 223.9 706.2 224.5 C707.8 225.1 711.1 224.5 712.5 223.8 C713.9 223 714.2 220.6 714.5 220"/>
<path class="h"  d="M714.5 220 L713.8 113.8 L710 113.2 L703 111.2"/>
<path class="p"  d="M711.5 115.5 L712.2 220"/>
<path class="t"  d="M705 101.2 L705.5 111.2"/>
<path class="p"  d="M708 111.2 L708.5 113.8"/>
<path class="t"  d="M705 101.2 L746.2 121.2 L750 125"/>
<path class="t"  d="M750 125 L751.2 180"/>
<path class="t"  d="M751.5 185 L752 225"/>
<path class="t"  d="M752.2 230 L753 277.5 L773.8 288.8 L773.8 280"/>
<path class="t"  d="M678.8 167 L702.5 174.5"/>
<path class="h" style="stroke-width:3.6" d="M800 172.5 C798.3 171.5 794.2 167.3 790 166.2 C785.8 165.2 779.6 164.8 775 166.2 C770.4 167.7 765.8 171 762.5 175 C759.2 179 756 185 755 190 C754 195 754.8 200.8 756.2 205 C757.7 209.2 760.6 212.5 763.8 215 C766.9 217.5 773.1 219.2 775 220"/>
<path class="h"  d="M797.5 177.5 C796 176.3 792.3 171.8 788.8 170.5 C785.2 169.2 780.2 168.8 776.2 170 C772.3 171.2 767.8 174.5 765 178 C762.2 181.5 760.1 186.8 759.2 191.2 C758.4 195.8 758.8 201.4 760 205 C761.2 208.6 764 211 766.2 213 C768.5 215 772.5 216.3 773.8 217"/>
<path class="p"  d="M796.2 185 C795.2 183.5 792.7 178.1 790 176.2 C787.3 174.4 783.4 173 780 173.8 C776.6 174.5 772.1 177.4 769.5 180.5 C766.9 183.6 765.2 188 764.5 192.5 C763.8 197 764.2 203.5 765.5 207.5 C766.8 211.5 771.3 214.8 772.5 216.2"/>
<path class="h"  d="M800 172.5 C801 173.8 805.1 177.1 806.2 180 C807.4 182.9 807.6 187.5 807 190 C806.4 192.5 803.2 194.2 802.5 195"/>
<ellipse class="k"  cx="800.8" cy="188.8" rx="3.2" ry="4"/>
<path class="h"  d="M775 220 C776 219.6 780.2 219 781.2 217.5 C782.3 216 782.1 212.3 781.2 211.2 C780.4 210.2 777.4 210.5 776.2 211.2 C775.1 212 774.8 214.8 774.5 215.5"/>
<path class="p"  d="M756.2 196.2 L760 195"/>
<path class="p"  d="M757.5 207.5 L761.8 205.5"/>
<path class="t"  d="M810 145 L793.8 165"/>
<path class="h"  d="M776.2 191.2 L800 206.2"/>
<path class="h"  d="M809.2 210.8 L810.8 211.8"/>
<path class="h"  d="M820 217.5 L840 228.8"/>
<path class="t"  d="M840 228 C842.5 226.3 850 220.2 855 218 C860 215.8 864.2 214.7 870 215 C875.8 215.3 882.5 217.1 890 220 C897.5 222.9 910.8 230.4 915 232.5"/>
<path class="t"  d="M840 228.8 C837.1 232.3 827.1 242.7 822.5 250 C817.9 257.3 814.8 264.2 812.5 272.5 C810.2 280.8 809.4 295.4 808.8 300"/>
<path class="t"  d="M822.5 187.5 L776.2 258.8"/>
<path class="h"  d="M850 100 C850.7 98.4 852.4 95 853.8 93.8 C855.1 92.5 859.4 89.8 861.2 89.5 C863.1 89.2 868.5 90.3 870 91.2 C871.5 92.2 873.3 95.8 873.8 97.5 C874.2 99.2 874.5 104.6 873.8 106.2 C873 107.9 869.7 111.4 867.5 112 C865.3 112.6 857.3 111.8 855 111.2 C852.7 110.7 848.1 108.8 847.5 107.5 C846.9 106.2 849.3 101.6 850 100 Z"/>
<path class="p"  d="M856.2 97.5 C855.8 98.5 853.3 102.1 853.8 103.8 C854.2 105.4 857.9 106.9 858.8 107.5"/>
<path class="p"  d="M862.5 95 L867.5 97.5"/>
<path class="p"  d="M863.8 102.5 L868.8 103"/>
<path class="h"  d="M854.5 112.5 L855.5 121.2 L867 121.2 L868 112.5"/>
<path class="p"  d="M855 116.2 L867.5 116.2"/>
<path class="p"  d="M855.2 119 L867.2 119"/>
<ellipse class="h"  cx="862" cy="132" rx="10" ry="4.5"/>
<path class="t"  d="M886.2 83.8 L866.2 90"/>
<path class="t"  d="M893.8 122.5 L872.5 128.8"/>
<path class="p"  d="M861.2 141.2 L862.5 210 L863.8 255"/>
<!-- items 11 (frame G) -->
<g transform="translate(913 197) rotate(27)"><path class="pw" style="stroke-width:2.4" d="M-7.5 -9.5 L7.5 -9.5 A4 9.5 0 0 1 7.5 9.5 L-7.5 9.5 A4 9.5 0 0 1 -7.5 -9.5 Z"/><ellipse class="p" cx="7.5" cy="0" rx="4" ry="9.5"/><ellipse class="k" cx="7.5" cy="0" rx="4" ry="9.5"/><ellipse fill="#fff" cx="5.9" cy="-1.9" rx="1.3" ry="4"/></g>
<path class="h"  d="M925 202.5 L958.8 220"/>
<path class="p"  d="M923.8 206.2 L955 223.8"/>
<path class="t"  d="M928.7 166.5 L915.5 187"/>
<!-- items 13,14,15 (frame O) -->
<ellipse class="h"  cx="863.8" cy="452.5" rx="10.5" ry="6.2"/>
<ellipse class="p"  cx="863.8" cy="453.5" rx="10.5" ry="6.2"/>
<ellipse class="h"  cx="863" cy="451.2" rx="4" ry="2.2"/>
<path class="h"  d="M862 400 L862.5 442.5"/>
<path class="h"  d="M860.5 476.2 L860.5 467 L868 467 L868 476.2"/>
<path class="h"  d="M855 478 C855.4 476.2 857.5 475.5 860 475 C862.5 474.5 867.6 474.4 870 475 C872.4 475.6 874 477.2 874.5 478.8 C875 480.3 874.5 483 873 484.5 C871.5 486 868.1 487.8 865.5 488 C862.9 488.2 859.2 487.2 857.5 485.5 C855.8 483.8 854.6 479.8 855 478 Z"/>
<path class="p"  d="M856.2 481.2 L860.5 486.2 L870 486.2 L873.8 481.2"/>
<path class="t"  d="M898.8 439.5 L875 447.5"/>
<path class="t"  d="M900 469.5 L873.8 477.5"/>
<path class="h"  d="M795 445 L840 470.5"/>
<path class="h"  d="M877.5 493 L927.5 520.5"/>
<path class="h"  d="M933 524.2 L934.5 525.2"/>
<path class="h"  d="M941.2 528.8 L970 545"/>
<path class="h" style="stroke-width:4" d="M970 545 C971.7 543.5 975.8 538.8 980 536.2 C984.2 533.8 990.4 531.2 995 530 C999.6 528.8 1003.8 528.1 1007.5 528.8 C1011.2 529.4 1015.2 531 1017.5 533.8 C1019.8 536.5 1021 541 1021.2 545 C1021.5 549 1020 554.2 1018.8 557.5 C1017.5 560.8 1014.6 563.8 1013.8 565"/>
<path class="h"  d="M973.8 547.5 C975.1 546.2 978.5 542.3 982 540 C985.5 537.7 990.8 535 995 533.8 C999.2 532.5 1004.2 531.7 1007.5 532.5 C1010.8 533.3 1013.4 535.8 1015 538.8 C1016.6 541.7 1017.3 546.5 1017 550 C1016.7 553.5 1013.7 558.3 1013 560"/>
<path class="h"  d="M970 545 C969.2 547.5 966 555 965 560 C964 565 963.3 570.8 963.8 575 C964.2 579.2 965.2 582.5 967.5 585 C969.8 587.5 973.8 589.2 977.5 590 C981.2 590.8 986.5 590.6 990 590 C993.5 589.4 996.9 587.9 998.8 586.2 C1000.6 584.6 1000.8 581 1001.2 580"/>
<path class="h"  d="M974.5 548.8 C973.8 551 970.8 557.9 970 562.5 C969.2 567.1 968.9 572.4 969.5 576.2 C970.1 580.1 972 583.4 973.8 585.5 C975.5 587.6 979 588.2 980 588.8"/>
<path class="p"  d="M978.8 545 C977.9 547.9 974.5 557.1 973.8 562.5 C973 567.9 973.7 573.8 974.5 577.5 C975.3 581.2 978 583.8 978.8 585"/>
<ellipse class="k"  cx="1013.8" cy="563" rx="3.5" ry="4"/>
<path class="h"  d="M1001.2 580 C1000.8 579.5 999.8 577.2 998.8 577 C997.7 576.8 995.5 577.6 995 578.8 C994.5 579.9 995.1 582.5 995.8 583.8 C996.4 585 998.2 585.8 998.8 586.2"/>
<path class="p"  d="M966.2 565 L971.2 563.8"/>
<path class="p"  d="M965 575 L970 573.8"/>
<path class="t"  d="M966.2 588.8 L948.8 612"/>
<!-- plate 17 + screws (frame Q) -->
<path class="h"  d="M810 743.8 C811.2 741 813.8 732.3 817.5 727.5 C821.2 722.7 827.5 717.7 832.5 715 C837.5 712.3 843.3 711.7 847.5 711.2 C851.7 710.8 855.2 710.6 857.5 712.5 C859.8 714.4 860.6 720.8 861.2 722.5"/>
<path class="h"  d="M861.2 722.5 L865 747.5 L817.5 770 L813.8 770 L810 743.8"/>
<path class="p"  d="M813.8 747 C815 744.4 817.7 735.8 821.2 731.2 C824.8 726.8 830.4 722.4 835 720 C839.6 717.6 844.9 717.2 848.8 717 C852.6 716.8 856.5 718.5 858 718.8"/>
<path class="p"  d="M813.8 747 L817.5 769.5"/>
<ellipse class="h"  cx="827.5" cy="751.2" rx="5" ry="7" transform="rotate(30 827.5 751.2)"/>
<ellipse class="h"  cx="848.8" cy="737.5" rx="5" ry="7" transform="rotate(30 848.8 737.5)"/>
<path class="p"  d="M823.8 755.5 L831.2 747"/>
<path class="p"  d="M845 741.8 L852.5 733.2"/>
<path class="p"  d="M852.5 740 L865 748"/>
<path class="h"  d="M867.5 750 L905 773.8"/>
<path class="p"  d="M833.8 753.8 L862.5 772.5"/>
<path class="p"  d="M867.5 776.2 L900 796.2"/>
<path class="t"  d="M815 771.2 L797.5 792.5"/>
<path class="p"  d="M944.3 783.6 L920.9 770.1 L917.2 776.6 L940.5 790.1 Z"/>
<path class="p"  d="M939.8 781 L934.5 786.6"/>
<path class="p"  d="M936.5 779.1 L931.2 784.7"/>
<path class="p"  d="M933.3 777.3 L928 782.9"/>
<path class="p"  d="M930 775.4 L924.7 781"/>
<path class="p"  d="M926.8 773.5 L921.5 779.1"/>
<path class="p"  d="M923.5 771.6 L918.2 777.2"/>
<ellipse class="pw" style="stroke-width:2.6" cx="945.2" cy="788.5" rx="6.5" ry="12" transform="rotate(30 945.2 788.5)"/>
<ellipse class="pw" style="stroke-width:2.8" cx="950" cy="791.2" rx="10.5" ry="12.5" transform="rotate(30 950 791.2)"/>
<ellipse class="h"  cx="952.6" cy="792.8" rx="6.5" ry="8.5" transform="rotate(30 952.6 792.8)"/>
<path class="h"  d="M950.3 796.6 L954.8 788.9"/>
<path class="h"  d="M954.8 794 L950.4 791.5"/>
<path class="p"  d="M943 822.9 L919.7 809.4 L915.9 815.9 L939.3 829.4 Z"/>
<path class="p"  d="M938.5 820.3 L933.2 825.9"/>
<path class="p"  d="M935.3 818.4 L930 824"/>
<path class="p"  d="M932 816.5 L926.7 822.1"/>
<path class="p"  d="M928.8 814.6 L923.5 820.2"/>
<path class="p"  d="M925.5 812.8 L920.2 818.4"/>
<path class="p"  d="M922.3 810.9 L917 816.5"/>
<ellipse class="pw" style="stroke-width:2.6" cx="944" cy="827.8" rx="6.5" ry="12" transform="rotate(30 944 827.8)"/>
<ellipse class="pw" style="stroke-width:2.8" cx="948.8" cy="830.5" rx="10.5" ry="12.5" transform="rotate(30 948.8 830.5)"/>
<ellipse class="h"  cx="951.3" cy="832" rx="6.5" ry="8.5" transform="rotate(30 951.3 832)"/>
<path class="h"  d="M949.1 835.9 L953.6 828.1"/>
<path class="h"  d="M953.5 833.2 L949.2 830.8"/>
<path class="t"  d="M992.5 776.2 L961.2 783.8"/>
<path class="t"  d="M991.2 777.5 L960 821.2"/>
<path class="t"  d="M836.2 866.2 L803.8 873.8"/>
<path class="t"  d="M836.2 868 L813.8 906.2"/>
<!-- plate 18 + screws (frame R) -->
<path class="h"  d="M650 802.5 C653 802 666.8 799.2 672.5 798.8 C678.2 798.2 688.3 798.4 692.5 798.8 C696.7 799.1 701.6 799.4 703.8 801.2 C705.9 803.1 707.8 809 708.8 812.5 C709.8 816 711.2 824.2 711.2 827.5 C711.2 830.8 710.2 835.3 708.8 837.5 C707.2 839.7 701.2 842.9 700 843.8"/>
<path class="h"  d="M700 843.8 L650 838.8 L641.2 832.5 L641.2 807.5 L650 802.5"/>
<path class="p"  d="M650 802.5 L649.2 838"/>
<path class="p"  d="M650 806.5 C653.8 805.9 665.4 803.4 672.5 802.8 C679.6 802.1 687.5 802.3 692.5 802.8 C697.5 803.2 700.8 804.8 702.5 805.2"/>
<ellipse class="h"  cx="666.2" cy="826.2" rx="5.5" ry="7.5" transform="rotate(30 666.2 826.2)"/>
<ellipse class="h"  cx="693.8" cy="821.2" rx="6" ry="8" transform="rotate(30 693.8 821.2)"/>
<ellipse class="h"  cx="693.8" cy="821.2" rx="4.2" ry="6.2" transform="rotate(30 693.8 821.2)"/>
<path class="p"  d="M662.5 830.5 L670 822"/>
<path class="t"  d="M718.8 778.8 L702.5 801.2"/>
<path class="h"  d="M600 771.2 L650 802.5"/>
<path class="p"  d="M698.8 823.8 L725 840"/>
<path class="h"  d="M731.8 844.5 L733.2 845.5"/>
<path class="h"  d="M743.8 852.5 L766.2 866.2"/>
<path class="p"  d="M671.2 830 L700 846.2"/>
<path class="p"  d="M707.5 851.2 L711.2 853.2"/>
<path class="p"  d="M717.5 857 L720 858.5"/>
<path class="p"  d="M727.5 863 L740 870.5"/>
<path class="h"  d="M750 882.5 L772.5 896.2"/>
<path class="p"  d="M791.8 877.9 L768.4 864.4 L764.7 870.9 L788 884.4 Z"/>
<path class="p"  d="M787.3 875.3 L782 880.9"/>
<path class="p"  d="M784 873.4 L778.7 879"/>
<path class="p"  d="M780.8 871.5 L775.5 877.1"/>
<path class="p"  d="M777.5 869.6 L772.2 875.2"/>
<path class="p"  d="M774.3 867.8 L769 873.4"/>
<path class="p"  d="M771 865.9 L765.7 871.5"/>
<ellipse class="pw" style="stroke-width:2.6" cx="792.7" cy="882.8" rx="6.5" ry="12" transform="rotate(30 792.7 882.8)"/>
<ellipse class="pw" style="stroke-width:2.8" cx="797.5" cy="885.5" rx="10.5" ry="12.5" transform="rotate(30 797.5 885.5)"/>
<ellipse class="h"  cx="800.1" cy="887" rx="6.5" ry="8.5" transform="rotate(30 800.1 887)"/>
<path class="h"  d="M797.8 890.9 L802.3 883.1"/>
<path class="h"  d="M802.3 888.2 L797.9 885.8"/>
<path class="p"  d="M798.8 907.9 L775.4 894.4 L771.7 900.9 L795 914.4 Z"/>
<path class="p"  d="M794.3 905.3 L789 910.9"/>
<path class="p"  d="M791 903.4 L785.7 909"/>
<path class="p"  d="M787.8 901.5 L782.5 907.1"/>
<path class="p"  d="M784.5 899.6 L779.2 905.2"/>
<path class="p"  d="M781.3 897.8 L776 903.4"/>
<path class="p"  d="M778 895.9 L772.7 901.5"/>
<ellipse class="pw" style="stroke-width:2.6" cx="799.7" cy="912.8" rx="6.5" ry="12" transform="rotate(30 799.7 912.8)"/>
<ellipse class="pw" style="stroke-width:2.8" cx="804.5" cy="915.5" rx="10.5" ry="12.5" transform="rotate(30 804.5 915.5)"/>
<ellipse class="h"  cx="807.1" cy="917" rx="6.5" ry="8.5" transform="rotate(30 807.1 917)"/>
<path class="h"  d="M804.8 920.9 L809.3 913.1"/>
<path class="h"  d="M809.3 918.2 L804.9 915.8"/>
<path class="t"  d="M836.2 866.2 L803.8 873.8"/>
<path class="t"  d="M836.2 867.5 L813.8 907.5"/>
<!-- pipe 28 (frame S) -->
<path class="h"  d="M26.2 576.2 L40 556.2 L46.2 552.5 L51.2 553 L153.8 612.5 L158 618.8 L157 625 L146.2 645"/>
<path class="h"  d="M37.5 582.5 L47.5 565 L147.5 622.5 L140 630 L136.2 638"/>
<path class="n"  d="M42.5 560 L48.8 559.5 L150 618 L149.5 626.2"/>
<path class="h"  d="M68.8 564.5 L65.5 573"/>
<path class="h"  d="M98 581.2 L95 590"/>
<path class="h"  d="M127 598 L124 607"/>
<path class="k"  d="M25 575.5 L29.5 572 L38.8 578 L35 584.5 L27 581.2 Z"/>
<path class="k"  d="M133 637 L137 633 L147 638 L143.8 645.5 L135 643 Z"/>
<path class="n"  d="M31.2 573 L37 562.5"/>
<path class="n"  d="M140 634.5 L146.2 626.2"/>
<path class="t"  d="M97.5 544.5 L80 566.2"/>
<path class="t"  d="M137 648.8 L119.5 692 L160 671.2"/>
<path class="t"  d="M168.8 665.5 L173.8 663.8"/>
<path class="t"  d="M182.5 657.5 L222.5 636.2"/>
<path class="t"  d="M231.2 631.2 L236.2 628.8"/>
<path class="t"  d="M246.2 622.5 L265 612.5"/>
<!-- bracket 33 etc (frame T) -->
<path class="h"  d="M405 885.5 C405.8 884.2 408.1 879.5 410 878 C411.9 876.5 415.2 877 416.2 876.8"/>
<path class="h"  d="M416.2 877.5 C415.4 878.8 411.5 882.7 411.2 885.5 C411 888.3 412.9 892.5 415 894.2 C417.1 896 421.2 897 423.8 896 C426.3 895 427.8 891.3 430.5 888.5 C433.2 885.7 436.5 882 440 879.2 C443.5 876.5 449.4 873 451.2 871.8"/>
<path class="h"  d="M451.2 871.8 L457.5 875.5 L458.8 908 L440 919.2 L420 925.5 L410 919.2 L405 905.5 L405 885.5"/>
<path class="p"  d="M407.5 893 C408.3 894.2 409.6 898.5 412.5 900 C415.4 901.5 421.6 902.7 425 901.8 C428.4 900.8 430.1 897.2 433 894.2 C435.9 891.3 439 887.2 442.5 884.2 C446 881.3 451.9 878 453.8 876.8"/>
<path class="k"  d="M430 888 C431 886.8 433.3 882.8 436.2 880.5 C439.2 878.2 445.6 875.3 447.5 874.2"/>
<ellipse class="h"  cx="442.5" cy="901" rx="4.2" ry="7" transform="rotate(30 442.5 901)"/>
<ellipse class="p"  cx="442.5" cy="901" rx="2.5" ry="5" transform="rotate(30 442.5 901)"/>
<path class="t"  d="M405 919.2 L387.5 943"/>
<path class="h"  d="M326.2 821.8 L408.8 880.5"/>
<path class="h"  d="M326.2 821.8 L367.5 798.5"/>
<path class="h"  d="M374.2 794.2 L375.8 793.2"/>
<path class="h"  d="M385 787.5 L395 783"/>
<path class="t"  d="M312.5 758 L325 765.5"/>
<path class="t"  d="M331.2 775.5 L311.2 800.5"/>
<path class="p"  d="M327 766.8 L348 777.5 L345.5 782.5 L324.5 771.8 Z"/>
<path class="h"  d="M328 767.2 L326 772.5"/>
<path class="h"  d="M330.8 768.6 L328.8 773.9"/>
<path class="h"  d="M333.5 770 L331.5 775.3"/>
<path class="h"  d="M336.2 771.5 L334.2 776.7"/>
<path class="h"  d="M339 772.9 L337 778.1"/>
<!-- items 21,22,23 (frame U) -->
<path class="n"  d="M609.2 467.6 L638.8 472.3 L638.8 476.9 L609.2 472.3 Z"/>
<path class="n"  d="M632.6 471.3 L632.6 476"/>
<ellipse class="p"  cx="610.8" cy="479.1" rx="3.7" ry="2.5"/>
<path class="t"  d="M587.4 441.1 L609.2 469.2"/>
<g transform="translate(502.4 492.5) rotate(22)"><path class="pw" style="stroke-width:2.4" d="M-5.5 -6.2 L5.5 -6.2 A2.6 6.2 0 0 1 5.5 6.2 L-5.5 6.2 A2.6 6.2 0 0 1 -5.5 -6.2 Z"/><ellipse class="p" cx="5.5" cy="0" rx="2.6" ry="6.2"/><ellipse class="k" cx="5.5" cy="0" rx="2.6" ry="6.2"/><ellipse fill="#fff" cx="4.5" cy="-1.2" rx="0.8" ry="2.6"/></g>
<path class="t"  d="M522 462.9 L506.5 484.7"/>
<path class="h"  d="M515.8 500.9 L526.7 505"/>
<path class="t"  d="M540.7 509.6 L584.3 534.5"/>
<path class="h"  d="M725 537.6 L739 544.5 L736.8 550.1 L722.8 543.3 Z"/>
<path class="h"  d="M727.5 538.6 L725.3 544.5"/>
<path class="h"  d="M730.6 540.1 L728.4 546.1"/>
<path class="h"  d="M733.7 541.7 L731.6 547.6"/>
<ellipse class="pw" style="stroke-width:2.6" cx="744.6" cy="548.5" rx="6.8" ry="7.8"/>
<path class="n"  d="M740 547 C740.7 546.5 743.1 543.6 744.6 543.9 C746.2 544.1 748.5 547.8 749.3 548.5"/>
<path class="t"  d="M768 515.9 L749.3 540.8"/>
<path class="t"  d="M719.7 536.1 L702.6 527.7 L669.9 542.3"/>
<!-- dowel 23 lower-left (frame S) -->
<g transform="translate(294 616) rotate(202)"><path class="pw" style="stroke-width:2.4" d="M-5.5 -5.8 L5.5 -5.8 A2.4 5.8 0 0 1 5.5 5.8 L-5.5 5.8 A2.4 5.8 0 0 1 -5.5 -5.8 Z"/><ellipse class="p" cx="5.5" cy="0" rx="2.4" ry="5.8"/><ellipse class="p" cx="5.5" cy="0" rx="1.2" ry="3.5"/></g>
<path class="t"  d="M287.5 627 L267.5 649"/>
<path class="t"  d="M305 708 L280 736.5"/>
<path class="t"  d="M988.8 295 L1024 292.5"/>
<path class="t"  d="M717.5 602 L740 605.5"/>
<path class="h"  d="M778.8 433.8 L796 444"/>
<path class="h"  d="M690 662 L742 691"/>
<path class="h"  d="M749.5 695 L751.5 696"/>
<path class="h"  d="M760 701 L800 723"/>
<path class="h"  d="M585.5 763 L587.5 764"/>
<path class="h"  d="M592 767 L601 772"/>
</g>
<g id="labels" opacity="0.99">
<text class="l" x="220" y="27.5">1</text>
<text class="l" x="279" y="60">2</text>
<text class="l" x="361" y="22">3</text>
<text class="l" x="423" y="114">4</text>
<text class="l" x="493" y="196">5</text>
<text class="l" x="160" y="186">27</text>
<text class="l" x="194" y="205">26</text>
<text class="l" x="319" y="351">23</text>
<text class="l" x="234" y="383">23</text>
<text class="l" x="375" y="370">25</text>
<text class="l" x="415" y="395">24</text>
<text class="l" x="903" y="82">9</text>
<text class="l" x="908" y="125">10</text>
<text class="l" x="818" y="144">8</text>
<text class="l" x="934" y="165">11</text>
<text class="l" x="666" y="173">6</text>
<text class="l" x="835" y="187">7</text>
<text class="l" x="1038" y="303">12</text>
<text class="l" x="914" y="441">13</text>
<text class="l" x="915" y="475">14</text>
<text class="l" x="582" y="440">22</text>
<text class="l" x="110" y="541">28</text>
<text class="l" x="224" y="580">29</text>
<text class="l" x="297" y="583">30</text>
<text class="l" x="251" y="672">23</text>
<text class="l" x="262" y="759">31</text>
<text class="l" x="300" y="828">2</text>
<text class="l" x="382" y="845">32</text>
<text class="l" x="372" y="969">33</text>
<text class="l" x="777" y="513">21</text>
<text class="l" x="755" y="621">20</text>
<text class="l" x="933" y="638">15</text>
<text class="l" x="581" y="747">19</text>
<text class="l" x="728" y="775">18</text>
<text class="l" x="783" y="822">17</text>
<text class="l" x="1005" y="777">16</text>
<text class="l" x="844" y="868">16</text>
<text class="l" x="530" y="460">23</text>
</g>
<g id="wm"><text class="wm" transform="translate(186,853.5) rotate(-41.35)" textLength="1030" lengthAdjust="spacingAndGlyphs">www.polarisersatzteile.de</text></g>
</svg>
</body></html>
